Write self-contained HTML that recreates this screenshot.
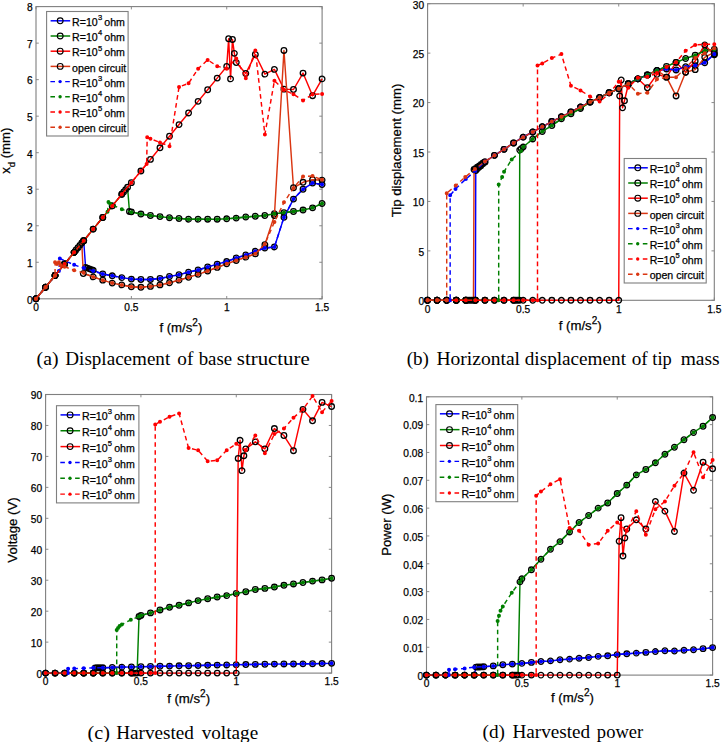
<!DOCTYPE html>
<html><head><meta charset="utf-8"><style>html,body{margin:0;padding:0;background:#fff}svg{display:block}</style></head>
<body><svg width="725" height="742" viewBox="0 0 725 742">
<rect width="725" height="742" fill="#fff"/>
<text x="32.60" y="303.60" text-anchor="end" font-family="&quot;Liberation Sans&quot;, sans-serif" stroke="#000" stroke-width="0.25" font-size="10.2">0</text>
<text x="32.60" y="267.08" text-anchor="end" font-family="&quot;Liberation Sans&quot;, sans-serif" stroke="#000" stroke-width="0.25" font-size="10.2">1</text>
<text x="32.60" y="230.55" text-anchor="end" font-family="&quot;Liberation Sans&quot;, sans-serif" stroke="#000" stroke-width="0.25" font-size="10.2">2</text>
<text x="32.60" y="194.03" text-anchor="end" font-family="&quot;Liberation Sans&quot;, sans-serif" stroke="#000" stroke-width="0.25" font-size="10.2">3</text>
<text x="32.60" y="157.50" text-anchor="end" font-family="&quot;Liberation Sans&quot;, sans-serif" stroke="#000" stroke-width="0.25" font-size="10.2">4</text>
<text x="32.60" y="120.98" text-anchor="end" font-family="&quot;Liberation Sans&quot;, sans-serif" stroke="#000" stroke-width="0.25" font-size="10.2">5</text>
<text x="32.60" y="84.45" text-anchor="end" font-family="&quot;Liberation Sans&quot;, sans-serif" stroke="#000" stroke-width="0.25" font-size="10.2">6</text>
<text x="32.60" y="47.93" text-anchor="end" font-family="&quot;Liberation Sans&quot;, sans-serif" stroke="#000" stroke-width="0.25" font-size="10.2">7</text>
<text x="32.60" y="11.40" text-anchor="end" font-family="&quot;Liberation Sans&quot;, sans-serif" stroke="#000" stroke-width="0.25" font-size="10.2">8</text>
<text x="36.00" y="311.00" text-anchor="middle" font-family="&quot;Liberation Sans&quot;, sans-serif" stroke="#000" stroke-width="0.25" font-size="10.2">0</text>
<text x="131.37" y="311.00" text-anchor="middle" font-family="&quot;Liberation Sans&quot;, sans-serif" stroke="#000" stroke-width="0.25" font-size="10.2">0.5</text>
<text x="226.73" y="311.00" text-anchor="middle" font-family="&quot;Liberation Sans&quot;, sans-serif" stroke="#000" stroke-width="0.25" font-size="10.2">1</text>
<text x="322.10" y="311.00" text-anchor="middle" font-family="&quot;Liberation Sans&quot;, sans-serif" stroke="#000" stroke-width="0.25" font-size="10.2">1.5</text>
<path d="M36.00,298.80h2.8M322.10,298.80h-2.8M36.00,262.28h2.8M322.10,262.28h-2.8M36.00,225.75h2.8M322.10,225.75h-2.8M36.00,189.23h2.8M322.10,189.23h-2.8M36.00,152.70h2.8M322.10,152.70h-2.8M36.00,116.18h2.8M322.10,116.18h-2.8M36.00,79.65h2.8M322.10,79.65h-2.8M36.00,43.13h2.8M322.10,43.13h-2.8M36.00,6.60h2.8M322.10,6.60h-2.8M36.00,298.80v-2.8M36.00,6.60v2.8M131.37,298.80v-2.8M131.37,6.60v2.8M226.73,298.80v-2.8M226.73,6.60v2.8M322.10,298.80v-2.8M322.10,6.60v2.8" stroke="#7f7f7f" stroke-width="0.9" fill="none"/>
<rect x="36.00" y="6.60" width="286.10" height="292.20" fill="none" stroke="#7f7f7f" stroke-width="1.1"/>
<text x="180.85" y="332.00" text-anchor="middle" font-family="&quot;Liberation Sans&quot;, sans-serif" stroke="#000" stroke-width="0.25" font-size="13.2">f (m/s<tspan dy="-6" font-size="10">2</tspan><tspan dy="6">)</tspan></text>
<text transform="translate(10.3,150.70) rotate(-90)" text-anchor="middle" font-family="&quot;Liberation Sans&quot;, sans-serif" stroke="#000" stroke-width="0.25" font-size="13.2">x<tspan dy="4.5" font-size="9.5">d</tspan><tspan dy="-4.5"> (mm)</tspan></text>
<text x="36.62" y="365.40" font-family="&quot;Liberation Serif&quot;, serif" font-size="18.2" textLength="21.89" lengthAdjust="spacingAndGlyphs">(a)</text>
<text x="65.35" y="365.40" font-family="&quot;Liberation Serif&quot;, serif" font-size="18.2" textLength="104.85" lengthAdjust="spacingAndGlyphs">Displacement</text>
<text x="177.34" y="365.40" font-family="&quot;Liberation Serif&quot;, serif" font-size="18.2" textLength="16.02" lengthAdjust="spacingAndGlyphs">of</text>
<text x="198.70" y="365.40" font-family="&quot;Liberation Serif&quot;, serif" font-size="18.2" textLength="33.44" lengthAdjust="spacingAndGlyphs">base</text>
<text x="236.85" y="365.40" font-family="&quot;Liberation Serif&quot;, serif" font-size="18.2" textLength="72.88" lengthAdjust="spacingAndGlyphs">structure</text>
<path d="M36.00,298.80L45.54,287.19L55.07,275.57L64.61,263.96L74.15,252.34L83.68,240.73L85.59,267.39L87.50,268.12L89.41,268.85L91.31,269.58L93.22,270.31L102.76,273.96L112.29,275.79L121.83,277.62L131.37,279.08L140.90,279.44L150.44,279.44L159.98,278.49L169.51,276.52L179.05,274.69L188.59,272.14L198.12,269.95L207.66,267.02L217.20,264.10L226.73,261.54L236.27,257.89L245.81,254.97L255.34,251.32L264.88,248.03L274.42,246.93L283.95,217.35L293.49,199.09L303.03,189.23L312.56,183.02L322.10,184.48" fill="none" stroke="#0000ff" stroke-width="1.45" stroke-linejoin="round"/>
<path d="M33.20,298.80a2.8,2.8 0 1,0 5.6,0a2.8,2.8 0 1,0 -5.6,0M42.74,287.19a2.8,2.8 0 1,0 5.6,0a2.8,2.8 0 1,0 -5.6,0M52.27,275.57a2.8,2.8 0 1,0 5.6,0a2.8,2.8 0 1,0 -5.6,0M61.81,263.96a2.8,2.8 0 1,0 5.6,0a2.8,2.8 0 1,0 -5.6,0M71.35,252.34a2.8,2.8 0 1,0 5.6,0a2.8,2.8 0 1,0 -5.6,0M80.88,240.73a2.8,2.8 0 1,0 5.6,0a2.8,2.8 0 1,0 -5.6,0M82.79,267.39a2.8,2.8 0 1,0 5.6,0a2.8,2.8 0 1,0 -5.6,0M84.70,268.12a2.8,2.8 0 1,0 5.6,0a2.8,2.8 0 1,0 -5.6,0M86.61,268.85a2.8,2.8 0 1,0 5.6,0a2.8,2.8 0 1,0 -5.6,0M88.51,269.58a2.8,2.8 0 1,0 5.6,0a2.8,2.8 0 1,0 -5.6,0M90.42,270.31a2.8,2.8 0 1,0 5.6,0a2.8,2.8 0 1,0 -5.6,0M99.96,273.96a2.8,2.8 0 1,0 5.6,0a2.8,2.8 0 1,0 -5.6,0M109.49,275.79a2.8,2.8 0 1,0 5.6,0a2.8,2.8 0 1,0 -5.6,0M119.03,277.62a2.8,2.8 0 1,0 5.6,0a2.8,2.8 0 1,0 -5.6,0M128.57,279.08a2.8,2.8 0 1,0 5.6,0a2.8,2.8 0 1,0 -5.6,0M138.10,279.44a2.8,2.8 0 1,0 5.6,0a2.8,2.8 0 1,0 -5.6,0M147.64,279.44a2.8,2.8 0 1,0 5.6,0a2.8,2.8 0 1,0 -5.6,0M157.18,278.49a2.8,2.8 0 1,0 5.6,0a2.8,2.8 0 1,0 -5.6,0M166.71,276.52a2.8,2.8 0 1,0 5.6,0a2.8,2.8 0 1,0 -5.6,0M176.25,274.69a2.8,2.8 0 1,0 5.6,0a2.8,2.8 0 1,0 -5.6,0M185.79,272.14a2.8,2.8 0 1,0 5.6,0a2.8,2.8 0 1,0 -5.6,0M195.32,269.95a2.8,2.8 0 1,0 5.6,0a2.8,2.8 0 1,0 -5.6,0M204.86,267.02a2.8,2.8 0 1,0 5.6,0a2.8,2.8 0 1,0 -5.6,0M214.40,264.10a2.8,2.8 0 1,0 5.6,0a2.8,2.8 0 1,0 -5.6,0M223.93,261.54a2.8,2.8 0 1,0 5.6,0a2.8,2.8 0 1,0 -5.6,0M233.47,257.89a2.8,2.8 0 1,0 5.6,0a2.8,2.8 0 1,0 -5.6,0M243.01,254.97a2.8,2.8 0 1,0 5.6,0a2.8,2.8 0 1,0 -5.6,0M252.54,251.32a2.8,2.8 0 1,0 5.6,0a2.8,2.8 0 1,0 -5.6,0M262.08,248.03a2.8,2.8 0 1,0 5.6,0a2.8,2.8 0 1,0 -5.6,0M271.62,246.93a2.8,2.8 0 1,0 5.6,0a2.8,2.8 0 1,0 -5.6,0M281.15,217.35a2.8,2.8 0 1,0 5.6,0a2.8,2.8 0 1,0 -5.6,0M290.69,199.09a2.8,2.8 0 1,0 5.6,0a2.8,2.8 0 1,0 -5.6,0M300.23,189.23a2.8,2.8 0 1,0 5.6,0a2.8,2.8 0 1,0 -5.6,0M309.76,183.02a2.8,2.8 0 1,0 5.6,0a2.8,2.8 0 1,0 -5.6,0M319.30,184.48a2.8,2.8 0 1,0 5.6,0a2.8,2.8 0 1,0 -5.6,0" fill="none" stroke="#000" stroke-width="1.3"/>
<path d="M36.00,298.80L45.54,287.19L55.07,275.57L64.61,263.96L74.15,252.34L83.68,240.73L93.22,229.11L102.76,217.50L112.29,205.88L121.83,194.27L123.74,191.94L125.64,189.62L127.55,187.30L129.46,211.51L131.37,211.87L140.90,214.06L150.44,215.52L159.98,216.62L169.51,217.71L179.05,218.44L188.59,219.18L198.12,219.18L207.66,219.18L217.20,219.18L226.73,218.81L236.27,218.08L245.81,216.98L255.34,216.25L264.88,215.52L274.42,213.70L283.95,212.60L293.49,211.51L303.03,210.04L312.56,207.85L322.10,203.47" fill="none" stroke="#007f00" stroke-width="1.45" stroke-linejoin="round"/>
<path d="M33.20,298.80a2.8,2.8 0 1,0 5.6,0a2.8,2.8 0 1,0 -5.6,0M42.74,287.19a2.8,2.8 0 1,0 5.6,0a2.8,2.8 0 1,0 -5.6,0M52.27,275.57a2.8,2.8 0 1,0 5.6,0a2.8,2.8 0 1,0 -5.6,0M61.81,263.96a2.8,2.8 0 1,0 5.6,0a2.8,2.8 0 1,0 -5.6,0M71.35,252.34a2.8,2.8 0 1,0 5.6,0a2.8,2.8 0 1,0 -5.6,0M80.88,240.73a2.8,2.8 0 1,0 5.6,0a2.8,2.8 0 1,0 -5.6,0M90.42,229.11a2.8,2.8 0 1,0 5.6,0a2.8,2.8 0 1,0 -5.6,0M99.96,217.50a2.8,2.8 0 1,0 5.6,0a2.8,2.8 0 1,0 -5.6,0M109.49,205.88a2.8,2.8 0 1,0 5.6,0a2.8,2.8 0 1,0 -5.6,0M119.03,194.27a2.8,2.8 0 1,0 5.6,0a2.8,2.8 0 1,0 -5.6,0M120.94,191.94a2.8,2.8 0 1,0 5.6,0a2.8,2.8 0 1,0 -5.6,0M122.84,189.62a2.8,2.8 0 1,0 5.6,0a2.8,2.8 0 1,0 -5.6,0M124.75,187.30a2.8,2.8 0 1,0 5.6,0a2.8,2.8 0 1,0 -5.6,0M126.66,211.51a2.8,2.8 0 1,0 5.6,0a2.8,2.8 0 1,0 -5.6,0M128.57,211.87a2.8,2.8 0 1,0 5.6,0a2.8,2.8 0 1,0 -5.6,0M138.10,214.06a2.8,2.8 0 1,0 5.6,0a2.8,2.8 0 1,0 -5.6,0M147.64,215.52a2.8,2.8 0 1,0 5.6,0a2.8,2.8 0 1,0 -5.6,0M157.18,216.62a2.8,2.8 0 1,0 5.6,0a2.8,2.8 0 1,0 -5.6,0M166.71,217.71a2.8,2.8 0 1,0 5.6,0a2.8,2.8 0 1,0 -5.6,0M176.25,218.44a2.8,2.8 0 1,0 5.6,0a2.8,2.8 0 1,0 -5.6,0M185.79,219.18a2.8,2.8 0 1,0 5.6,0a2.8,2.8 0 1,0 -5.6,0M195.32,219.18a2.8,2.8 0 1,0 5.6,0a2.8,2.8 0 1,0 -5.6,0M204.86,219.18a2.8,2.8 0 1,0 5.6,0a2.8,2.8 0 1,0 -5.6,0M214.40,219.18a2.8,2.8 0 1,0 5.6,0a2.8,2.8 0 1,0 -5.6,0M223.93,218.81a2.8,2.8 0 1,0 5.6,0a2.8,2.8 0 1,0 -5.6,0M233.47,218.08a2.8,2.8 0 1,0 5.6,0a2.8,2.8 0 1,0 -5.6,0M243.01,216.98a2.8,2.8 0 1,0 5.6,0a2.8,2.8 0 1,0 -5.6,0M252.54,216.25a2.8,2.8 0 1,0 5.6,0a2.8,2.8 0 1,0 -5.6,0M262.08,215.52a2.8,2.8 0 1,0 5.6,0a2.8,2.8 0 1,0 -5.6,0M271.62,213.70a2.8,2.8 0 1,0 5.6,0a2.8,2.8 0 1,0 -5.6,0M281.15,212.60a2.8,2.8 0 1,0 5.6,0a2.8,2.8 0 1,0 -5.6,0M290.69,211.51a2.8,2.8 0 1,0 5.6,0a2.8,2.8 0 1,0 -5.6,0M300.23,210.04a2.8,2.8 0 1,0 5.6,0a2.8,2.8 0 1,0 -5.6,0M309.76,207.85a2.8,2.8 0 1,0 5.6,0a2.8,2.8 0 1,0 -5.6,0M319.30,203.47a2.8,2.8 0 1,0 5.6,0a2.8,2.8 0 1,0 -5.6,0" fill="none" stroke="#000" stroke-width="1.3"/>
<path d="M36.00,298.80L45.54,287.19L55.07,275.57L64.61,263.96L74.15,252.34L83.68,240.73L93.22,229.11L102.76,217.50L112.29,205.88L121.83,194.27L131.37,182.65L140.90,171.04L150.44,159.42L159.98,147.81L169.51,136.19L179.05,124.58L188.59,112.96L198.12,101.35L207.66,89.73L217.20,78.12L226.73,66.50L228.64,38.74L230.55,78.92L232.46,39.47L234.36,53.35L236.27,62.48L245.81,73.44L255.34,54.45L264.88,74.17L274.42,69.42L283.95,89.15L293.49,89.51L303.03,73.08L312.56,95.72L322.10,78.92" fill="none" stroke="#ff0000" stroke-width="1.45" stroke-linejoin="round"/>
<path d="M33.20,298.80a2.8,2.8 0 1,0 5.6,0a2.8,2.8 0 1,0 -5.6,0M42.74,287.19a2.8,2.8 0 1,0 5.6,0a2.8,2.8 0 1,0 -5.6,0M52.27,275.57a2.8,2.8 0 1,0 5.6,0a2.8,2.8 0 1,0 -5.6,0M61.81,263.96a2.8,2.8 0 1,0 5.6,0a2.8,2.8 0 1,0 -5.6,0M71.35,252.34a2.8,2.8 0 1,0 5.6,0a2.8,2.8 0 1,0 -5.6,0M80.88,240.73a2.8,2.8 0 1,0 5.6,0a2.8,2.8 0 1,0 -5.6,0M90.42,229.11a2.8,2.8 0 1,0 5.6,0a2.8,2.8 0 1,0 -5.6,0M99.96,217.50a2.8,2.8 0 1,0 5.6,0a2.8,2.8 0 1,0 -5.6,0M109.49,205.88a2.8,2.8 0 1,0 5.6,0a2.8,2.8 0 1,0 -5.6,0M119.03,194.27a2.8,2.8 0 1,0 5.6,0a2.8,2.8 0 1,0 -5.6,0M128.57,182.65a2.8,2.8 0 1,0 5.6,0a2.8,2.8 0 1,0 -5.6,0M138.10,171.04a2.8,2.8 0 1,0 5.6,0a2.8,2.8 0 1,0 -5.6,0M147.64,159.42a2.8,2.8 0 1,0 5.6,0a2.8,2.8 0 1,0 -5.6,0M157.18,147.81a2.8,2.8 0 1,0 5.6,0a2.8,2.8 0 1,0 -5.6,0M166.71,136.19a2.8,2.8 0 1,0 5.6,0a2.8,2.8 0 1,0 -5.6,0M176.25,124.58a2.8,2.8 0 1,0 5.6,0a2.8,2.8 0 1,0 -5.6,0M185.79,112.96a2.8,2.8 0 1,0 5.6,0a2.8,2.8 0 1,0 -5.6,0M195.32,101.35a2.8,2.8 0 1,0 5.6,0a2.8,2.8 0 1,0 -5.6,0M204.86,89.73a2.8,2.8 0 1,0 5.6,0a2.8,2.8 0 1,0 -5.6,0M214.40,78.12a2.8,2.8 0 1,0 5.6,0a2.8,2.8 0 1,0 -5.6,0M223.93,66.50a2.8,2.8 0 1,0 5.6,0a2.8,2.8 0 1,0 -5.6,0M225.84,38.74a2.8,2.8 0 1,0 5.6,0a2.8,2.8 0 1,0 -5.6,0M227.75,78.92a2.8,2.8 0 1,0 5.6,0a2.8,2.8 0 1,0 -5.6,0M229.66,39.47a2.8,2.8 0 1,0 5.6,0a2.8,2.8 0 1,0 -5.6,0M231.56,53.35a2.8,2.8 0 1,0 5.6,0a2.8,2.8 0 1,0 -5.6,0M233.47,62.48a2.8,2.8 0 1,0 5.6,0a2.8,2.8 0 1,0 -5.6,0M243.01,73.44a2.8,2.8 0 1,0 5.6,0a2.8,2.8 0 1,0 -5.6,0M252.54,54.45a2.8,2.8 0 1,0 5.6,0a2.8,2.8 0 1,0 -5.6,0M262.08,74.17a2.8,2.8 0 1,0 5.6,0a2.8,2.8 0 1,0 -5.6,0M271.62,69.42a2.8,2.8 0 1,0 5.6,0a2.8,2.8 0 1,0 -5.6,0M281.15,89.15a2.8,2.8 0 1,0 5.6,0a2.8,2.8 0 1,0 -5.6,0M290.69,89.51a2.8,2.8 0 1,0 5.6,0a2.8,2.8 0 1,0 -5.6,0M300.23,73.08a2.8,2.8 0 1,0 5.6,0a2.8,2.8 0 1,0 -5.6,0M309.76,95.72a2.8,2.8 0 1,0 5.6,0a2.8,2.8 0 1,0 -5.6,0M319.30,78.92a2.8,2.8 0 1,0 5.6,0a2.8,2.8 0 1,0 -5.6,0" fill="none" stroke="#000" stroke-width="1.3"/>
<path d="M36.00,298.80L45.54,287.19L55.07,275.57L64.61,263.96L74.15,252.34L76.05,250.02L77.96,247.69L79.87,245.37L81.78,243.05L83.30,273.60L93.22,276.88L102.76,280.17L112.29,283.09L121.83,284.92L131.37,286.75L140.90,287.29L150.44,286.38L159.98,284.92L169.51,282.73L179.05,280.17L188.59,277.25L198.12,274.33L207.66,271.04L217.20,267.39L226.73,263.74L236.27,260.45L245.81,257.16L255.34,253.87L264.88,244.74L274.42,215.52L283.95,50.43L293.49,187.76L303.03,182.29L312.56,179.73L322.10,180.09" fill="none" stroke="#da3612" stroke-width="1.45" stroke-linejoin="round"/>
<path d="M33.20,298.80a2.8,2.8 0 1,0 5.6,0a2.8,2.8 0 1,0 -5.6,0M42.74,287.19a2.8,2.8 0 1,0 5.6,0a2.8,2.8 0 1,0 -5.6,0M52.27,275.57a2.8,2.8 0 1,0 5.6,0a2.8,2.8 0 1,0 -5.6,0M61.81,263.96a2.8,2.8 0 1,0 5.6,0a2.8,2.8 0 1,0 -5.6,0M71.35,252.34a2.8,2.8 0 1,0 5.6,0a2.8,2.8 0 1,0 -5.6,0M73.25,250.02a2.8,2.8 0 1,0 5.6,0a2.8,2.8 0 1,0 -5.6,0M75.16,247.69a2.8,2.8 0 1,0 5.6,0a2.8,2.8 0 1,0 -5.6,0M77.07,245.37a2.8,2.8 0 1,0 5.6,0a2.8,2.8 0 1,0 -5.6,0M78.98,243.05a2.8,2.8 0 1,0 5.6,0a2.8,2.8 0 1,0 -5.6,0M80.50,273.60a2.8,2.8 0 1,0 5.6,0a2.8,2.8 0 1,0 -5.6,0M90.42,276.88a2.8,2.8 0 1,0 5.6,0a2.8,2.8 0 1,0 -5.6,0M99.96,280.17a2.8,2.8 0 1,0 5.6,0a2.8,2.8 0 1,0 -5.6,0M109.49,283.09a2.8,2.8 0 1,0 5.6,0a2.8,2.8 0 1,0 -5.6,0M119.03,284.92a2.8,2.8 0 1,0 5.6,0a2.8,2.8 0 1,0 -5.6,0M128.57,286.75a2.8,2.8 0 1,0 5.6,0a2.8,2.8 0 1,0 -5.6,0M138.10,287.29a2.8,2.8 0 1,0 5.6,0a2.8,2.8 0 1,0 -5.6,0M147.64,286.38a2.8,2.8 0 1,0 5.6,0a2.8,2.8 0 1,0 -5.6,0M157.18,284.92a2.8,2.8 0 1,0 5.6,0a2.8,2.8 0 1,0 -5.6,0M166.71,282.73a2.8,2.8 0 1,0 5.6,0a2.8,2.8 0 1,0 -5.6,0M176.25,280.17a2.8,2.8 0 1,0 5.6,0a2.8,2.8 0 1,0 -5.6,0M185.79,277.25a2.8,2.8 0 1,0 5.6,0a2.8,2.8 0 1,0 -5.6,0M195.32,274.33a2.8,2.8 0 1,0 5.6,0a2.8,2.8 0 1,0 -5.6,0M204.86,271.04a2.8,2.8 0 1,0 5.6,0a2.8,2.8 0 1,0 -5.6,0M214.40,267.39a2.8,2.8 0 1,0 5.6,0a2.8,2.8 0 1,0 -5.6,0M223.93,263.74a2.8,2.8 0 1,0 5.6,0a2.8,2.8 0 1,0 -5.6,0M233.47,260.45a2.8,2.8 0 1,0 5.6,0a2.8,2.8 0 1,0 -5.6,0M243.01,257.16a2.8,2.8 0 1,0 5.6,0a2.8,2.8 0 1,0 -5.6,0M252.54,253.87a2.8,2.8 0 1,0 5.6,0a2.8,2.8 0 1,0 -5.6,0M262.08,244.74a2.8,2.8 0 1,0 5.6,0a2.8,2.8 0 1,0 -5.6,0M271.62,215.52a2.8,2.8 0 1,0 5.6,0a2.8,2.8 0 1,0 -5.6,0M281.15,50.43a2.8,2.8 0 1,0 5.6,0a2.8,2.8 0 1,0 -5.6,0M290.69,187.76a2.8,2.8 0 1,0 5.6,0a2.8,2.8 0 1,0 -5.6,0M300.23,182.29a2.8,2.8 0 1,0 5.6,0a2.8,2.8 0 1,0 -5.6,0M309.76,179.73a2.8,2.8 0 1,0 5.6,0a2.8,2.8 0 1,0 -5.6,0M319.30,180.09a2.8,2.8 0 1,0 5.6,0a2.8,2.8 0 1,0 -5.6,0" fill="none" stroke="#000" stroke-width="1.3"/>
<path d="M36.00,298.80L45.54,287.19L55.07,275.57L58.89,270.92L59.84,258.62L74.15,264.83L83.68,268.12L93.22,271.04L102.76,273.96L112.29,275.79L121.83,277.62L131.37,279.08L140.90,279.44L150.44,279.44L159.98,278.49L169.51,276.52L179.05,274.69L188.59,272.14L198.12,269.95L207.66,267.02L217.20,264.10L226.73,261.54L236.27,257.89L245.81,254.97L255.34,251.32L264.88,248.03L274.42,246.93L283.95,217.35L293.49,199.09L303.03,189.23L312.56,183.02L322.10,184.48" fill="none" stroke="#0000ff" stroke-width="1.45" stroke-dasharray="4.6,3.4"/>
<path d="M34.00,298.80a2.0,2.0 0 1,0 4.0,0a2.0,2.0 0 1,0 -4.0,0M43.54,287.19a2.0,2.0 0 1,0 4.0,0a2.0,2.0 0 1,0 -4.0,0M53.07,275.57a2.0,2.0 0 1,0 4.0,0a2.0,2.0 0 1,0 -4.0,0M56.89,270.92a2.0,2.0 0 1,0 4.0,0a2.0,2.0 0 1,0 -4.0,0M57.84,258.62a2.0,2.0 0 1,0 4.0,0a2.0,2.0 0 1,0 -4.0,0M72.15,264.83a2.0,2.0 0 1,0 4.0,0a2.0,2.0 0 1,0 -4.0,0M81.68,268.12a2.0,2.0 0 1,0 4.0,0a2.0,2.0 0 1,0 -4.0,0M91.22,271.04a2.0,2.0 0 1,0 4.0,0a2.0,2.0 0 1,0 -4.0,0M100.76,273.96a2.0,2.0 0 1,0 4.0,0a2.0,2.0 0 1,0 -4.0,0M110.29,275.79a2.0,2.0 0 1,0 4.0,0a2.0,2.0 0 1,0 -4.0,0M119.83,277.62a2.0,2.0 0 1,0 4.0,0a2.0,2.0 0 1,0 -4.0,0M129.37,279.08a2.0,2.0 0 1,0 4.0,0a2.0,2.0 0 1,0 -4.0,0M138.90,279.44a2.0,2.0 0 1,0 4.0,0a2.0,2.0 0 1,0 -4.0,0M148.44,279.44a2.0,2.0 0 1,0 4.0,0a2.0,2.0 0 1,0 -4.0,0M157.98,278.49a2.0,2.0 0 1,0 4.0,0a2.0,2.0 0 1,0 -4.0,0M167.51,276.52a2.0,2.0 0 1,0 4.0,0a2.0,2.0 0 1,0 -4.0,0M177.05,274.69a2.0,2.0 0 1,0 4.0,0a2.0,2.0 0 1,0 -4.0,0M186.59,272.14a2.0,2.0 0 1,0 4.0,0a2.0,2.0 0 1,0 -4.0,0M196.12,269.95a2.0,2.0 0 1,0 4.0,0a2.0,2.0 0 1,0 -4.0,0M205.66,267.02a2.0,2.0 0 1,0 4.0,0a2.0,2.0 0 1,0 -4.0,0M215.20,264.10a2.0,2.0 0 1,0 4.0,0a2.0,2.0 0 1,0 -4.0,0M224.73,261.54a2.0,2.0 0 1,0 4.0,0a2.0,2.0 0 1,0 -4.0,0M234.27,257.89a2.0,2.0 0 1,0 4.0,0a2.0,2.0 0 1,0 -4.0,0M243.81,254.97a2.0,2.0 0 1,0 4.0,0a2.0,2.0 0 1,0 -4.0,0M253.34,251.32a2.0,2.0 0 1,0 4.0,0a2.0,2.0 0 1,0 -4.0,0M262.88,248.03a2.0,2.0 0 1,0 4.0,0a2.0,2.0 0 1,0 -4.0,0M272.42,246.93a2.0,2.0 0 1,0 4.0,0a2.0,2.0 0 1,0 -4.0,0M281.95,217.35a2.0,2.0 0 1,0 4.0,0a2.0,2.0 0 1,0 -4.0,0M291.49,199.09a2.0,2.0 0 1,0 4.0,0a2.0,2.0 0 1,0 -4.0,0M301.03,189.23a2.0,2.0 0 1,0 4.0,0a2.0,2.0 0 1,0 -4.0,0M310.56,183.02a2.0,2.0 0 1,0 4.0,0a2.0,2.0 0 1,0 -4.0,0M320.10,184.48a2.0,2.0 0 1,0 4.0,0a2.0,2.0 0 1,0 -4.0,0" fill="#0000ff" stroke="none"/>
<path d="M36.00,298.80L45.54,287.19L55.07,275.57L64.61,263.96L74.15,252.34L83.68,240.73L93.22,229.11L102.76,217.50L107.53,211.69L108.48,202.01L110.39,203.84L121.83,209.31L131.37,212.24L140.90,214.06L150.44,215.52L159.98,216.62L169.51,217.71L179.05,218.44L188.59,219.18L198.12,219.18L207.66,219.18L217.20,219.18L226.73,218.81L236.27,218.08L245.81,216.98L255.34,216.25L264.88,215.52L274.42,213.70L283.95,212.60L293.49,211.51L303.03,210.04L312.56,207.85L322.10,203.47" fill="none" stroke="#007f00" stroke-width="1.45" stroke-dasharray="4.6,3.4"/>
<path d="M34.00,298.80a2.0,2.0 0 1,0 4.0,0a2.0,2.0 0 1,0 -4.0,0M43.54,287.19a2.0,2.0 0 1,0 4.0,0a2.0,2.0 0 1,0 -4.0,0M53.07,275.57a2.0,2.0 0 1,0 4.0,0a2.0,2.0 0 1,0 -4.0,0M62.61,263.96a2.0,2.0 0 1,0 4.0,0a2.0,2.0 0 1,0 -4.0,0M72.15,252.34a2.0,2.0 0 1,0 4.0,0a2.0,2.0 0 1,0 -4.0,0M81.68,240.73a2.0,2.0 0 1,0 4.0,0a2.0,2.0 0 1,0 -4.0,0M91.22,229.11a2.0,2.0 0 1,0 4.0,0a2.0,2.0 0 1,0 -4.0,0M100.76,217.50a2.0,2.0 0 1,0 4.0,0a2.0,2.0 0 1,0 -4.0,0M105.53,211.69a2.0,2.0 0 1,0 4.0,0a2.0,2.0 0 1,0 -4.0,0M106.48,202.01a2.0,2.0 0 1,0 4.0,0a2.0,2.0 0 1,0 -4.0,0M108.39,203.84a2.0,2.0 0 1,0 4.0,0a2.0,2.0 0 1,0 -4.0,0M119.83,209.31a2.0,2.0 0 1,0 4.0,0a2.0,2.0 0 1,0 -4.0,0M129.37,212.24a2.0,2.0 0 1,0 4.0,0a2.0,2.0 0 1,0 -4.0,0M138.90,214.06a2.0,2.0 0 1,0 4.0,0a2.0,2.0 0 1,0 -4.0,0M148.44,215.52a2.0,2.0 0 1,0 4.0,0a2.0,2.0 0 1,0 -4.0,0M157.98,216.62a2.0,2.0 0 1,0 4.0,0a2.0,2.0 0 1,0 -4.0,0M167.51,217.71a2.0,2.0 0 1,0 4.0,0a2.0,2.0 0 1,0 -4.0,0M177.05,218.44a2.0,2.0 0 1,0 4.0,0a2.0,2.0 0 1,0 -4.0,0M186.59,219.18a2.0,2.0 0 1,0 4.0,0a2.0,2.0 0 1,0 -4.0,0M196.12,219.18a2.0,2.0 0 1,0 4.0,0a2.0,2.0 0 1,0 -4.0,0M205.66,219.18a2.0,2.0 0 1,0 4.0,0a2.0,2.0 0 1,0 -4.0,0M215.20,219.18a2.0,2.0 0 1,0 4.0,0a2.0,2.0 0 1,0 -4.0,0M224.73,218.81a2.0,2.0 0 1,0 4.0,0a2.0,2.0 0 1,0 -4.0,0M234.27,218.08a2.0,2.0 0 1,0 4.0,0a2.0,2.0 0 1,0 -4.0,0M243.81,216.98a2.0,2.0 0 1,0 4.0,0a2.0,2.0 0 1,0 -4.0,0M253.34,216.25a2.0,2.0 0 1,0 4.0,0a2.0,2.0 0 1,0 -4.0,0M262.88,215.52a2.0,2.0 0 1,0 4.0,0a2.0,2.0 0 1,0 -4.0,0M272.42,213.70a2.0,2.0 0 1,0 4.0,0a2.0,2.0 0 1,0 -4.0,0M281.95,212.60a2.0,2.0 0 1,0 4.0,0a2.0,2.0 0 1,0 -4.0,0M291.49,211.51a2.0,2.0 0 1,0 4.0,0a2.0,2.0 0 1,0 -4.0,0M301.03,210.04a2.0,2.0 0 1,0 4.0,0a2.0,2.0 0 1,0 -4.0,0M310.56,207.85a2.0,2.0 0 1,0 4.0,0a2.0,2.0 0 1,0 -4.0,0M320.10,203.47a2.0,2.0 0 1,0 4.0,0a2.0,2.0 0 1,0 -4.0,0" fill="#007f00" stroke="none"/>
<path d="M36.00,298.80L45.54,287.19L55.07,275.57L64.61,263.96L74.15,252.34L83.68,240.73L93.22,229.11L102.76,217.50L112.29,205.88L121.83,194.27L131.37,182.65L140.90,171.04L146.63,164.07L147.20,137.36L150.44,138.82L159.98,142.47L169.51,146.13L179.05,86.96L188.59,83.30L198.12,68.69L207.66,59.93L217.20,66.14L226.73,68.69L236.27,58.47L245.81,78.19L255.34,50.43L264.88,134.44L274.42,80.75L283.95,89.88L293.49,94.26L303.03,100.47L312.56,94.26L322.10,93.89" fill="none" stroke="#ff0000" stroke-width="1.45" stroke-dasharray="4.6,3.4"/>
<path d="M34.00,298.80a2.0,2.0 0 1,0 4.0,0a2.0,2.0 0 1,0 -4.0,0M43.54,287.19a2.0,2.0 0 1,0 4.0,0a2.0,2.0 0 1,0 -4.0,0M53.07,275.57a2.0,2.0 0 1,0 4.0,0a2.0,2.0 0 1,0 -4.0,0M62.61,263.96a2.0,2.0 0 1,0 4.0,0a2.0,2.0 0 1,0 -4.0,0M72.15,252.34a2.0,2.0 0 1,0 4.0,0a2.0,2.0 0 1,0 -4.0,0M81.68,240.73a2.0,2.0 0 1,0 4.0,0a2.0,2.0 0 1,0 -4.0,0M91.22,229.11a2.0,2.0 0 1,0 4.0,0a2.0,2.0 0 1,0 -4.0,0M100.76,217.50a2.0,2.0 0 1,0 4.0,0a2.0,2.0 0 1,0 -4.0,0M110.29,205.88a2.0,2.0 0 1,0 4.0,0a2.0,2.0 0 1,0 -4.0,0M119.83,194.27a2.0,2.0 0 1,0 4.0,0a2.0,2.0 0 1,0 -4.0,0M129.37,182.65a2.0,2.0 0 1,0 4.0,0a2.0,2.0 0 1,0 -4.0,0M138.90,171.04a2.0,2.0 0 1,0 4.0,0a2.0,2.0 0 1,0 -4.0,0M144.63,164.07a2.0,2.0 0 1,0 4.0,0a2.0,2.0 0 1,0 -4.0,0M145.20,137.36a2.0,2.0 0 1,0 4.0,0a2.0,2.0 0 1,0 -4.0,0M148.44,138.82a2.0,2.0 0 1,0 4.0,0a2.0,2.0 0 1,0 -4.0,0M157.98,142.47a2.0,2.0 0 1,0 4.0,0a2.0,2.0 0 1,0 -4.0,0M167.51,146.13a2.0,2.0 0 1,0 4.0,0a2.0,2.0 0 1,0 -4.0,0M177.05,86.96a2.0,2.0 0 1,0 4.0,0a2.0,2.0 0 1,0 -4.0,0M186.59,83.30a2.0,2.0 0 1,0 4.0,0a2.0,2.0 0 1,0 -4.0,0M196.12,68.69a2.0,2.0 0 1,0 4.0,0a2.0,2.0 0 1,0 -4.0,0M205.66,59.93a2.0,2.0 0 1,0 4.0,0a2.0,2.0 0 1,0 -4.0,0M215.20,66.14a2.0,2.0 0 1,0 4.0,0a2.0,2.0 0 1,0 -4.0,0M224.73,68.69a2.0,2.0 0 1,0 4.0,0a2.0,2.0 0 1,0 -4.0,0M234.27,58.47a2.0,2.0 0 1,0 4.0,0a2.0,2.0 0 1,0 -4.0,0M243.81,78.19a2.0,2.0 0 1,0 4.0,0a2.0,2.0 0 1,0 -4.0,0M253.34,50.43a2.0,2.0 0 1,0 4.0,0a2.0,2.0 0 1,0 -4.0,0M262.88,134.44a2.0,2.0 0 1,0 4.0,0a2.0,2.0 0 1,0 -4.0,0M272.42,80.75a2.0,2.0 0 1,0 4.0,0a2.0,2.0 0 1,0 -4.0,0M281.95,89.88a2.0,2.0 0 1,0 4.0,0a2.0,2.0 0 1,0 -4.0,0M291.49,94.26a2.0,2.0 0 1,0 4.0,0a2.0,2.0 0 1,0 -4.0,0M301.03,100.47a2.0,2.0 0 1,0 4.0,0a2.0,2.0 0 1,0 -4.0,0M310.56,94.26a2.0,2.0 0 1,0 4.0,0a2.0,2.0 0 1,0 -4.0,0M320.10,93.89a2.0,2.0 0 1,0 4.0,0a2.0,2.0 0 1,0 -4.0,0" fill="#ff0000" stroke="none"/>
<path d="M36.00,298.80L45.54,287.19L55.07,275.57L55.07,262.28L56.98,264.10L58.89,262.28L60.80,265.20L64.61,266.66L74.15,270.31L83.68,272.87L93.22,276.88L102.76,280.17L112.29,283.09L121.83,284.92L131.37,286.75L140.90,287.29L150.44,286.38L159.98,284.92L169.51,282.73L179.05,280.17L188.59,277.25L198.12,274.33L207.66,271.04L217.20,267.39L226.73,263.74L236.27,260.45L245.81,257.16L255.34,253.87L264.88,244.01L274.42,222.10L283.95,202.37L293.49,188.13L303.03,176.44L312.56,176.08L322.10,179.73" fill="none" stroke="#da3612" stroke-width="1.45" stroke-dasharray="4.6,3.4"/>
<path d="M34.00,298.80a2.0,2.0 0 1,0 4.0,0a2.0,2.0 0 1,0 -4.0,0M43.54,287.19a2.0,2.0 0 1,0 4.0,0a2.0,2.0 0 1,0 -4.0,0M53.07,275.57a2.0,2.0 0 1,0 4.0,0a2.0,2.0 0 1,0 -4.0,0M53.07,262.28a2.0,2.0 0 1,0 4.0,0a2.0,2.0 0 1,0 -4.0,0M54.98,264.10a2.0,2.0 0 1,0 4.0,0a2.0,2.0 0 1,0 -4.0,0M56.89,262.28a2.0,2.0 0 1,0 4.0,0a2.0,2.0 0 1,0 -4.0,0M58.80,265.20a2.0,2.0 0 1,0 4.0,0a2.0,2.0 0 1,0 -4.0,0M62.61,266.66a2.0,2.0 0 1,0 4.0,0a2.0,2.0 0 1,0 -4.0,0M72.15,270.31a2.0,2.0 0 1,0 4.0,0a2.0,2.0 0 1,0 -4.0,0M81.68,272.87a2.0,2.0 0 1,0 4.0,0a2.0,2.0 0 1,0 -4.0,0M91.22,276.88a2.0,2.0 0 1,0 4.0,0a2.0,2.0 0 1,0 -4.0,0M100.76,280.17a2.0,2.0 0 1,0 4.0,0a2.0,2.0 0 1,0 -4.0,0M110.29,283.09a2.0,2.0 0 1,0 4.0,0a2.0,2.0 0 1,0 -4.0,0M119.83,284.92a2.0,2.0 0 1,0 4.0,0a2.0,2.0 0 1,0 -4.0,0M129.37,286.75a2.0,2.0 0 1,0 4.0,0a2.0,2.0 0 1,0 -4.0,0M138.90,287.29a2.0,2.0 0 1,0 4.0,0a2.0,2.0 0 1,0 -4.0,0M148.44,286.38a2.0,2.0 0 1,0 4.0,0a2.0,2.0 0 1,0 -4.0,0M157.98,284.92a2.0,2.0 0 1,0 4.0,0a2.0,2.0 0 1,0 -4.0,0M167.51,282.73a2.0,2.0 0 1,0 4.0,0a2.0,2.0 0 1,0 -4.0,0M177.05,280.17a2.0,2.0 0 1,0 4.0,0a2.0,2.0 0 1,0 -4.0,0M186.59,277.25a2.0,2.0 0 1,0 4.0,0a2.0,2.0 0 1,0 -4.0,0M196.12,274.33a2.0,2.0 0 1,0 4.0,0a2.0,2.0 0 1,0 -4.0,0M205.66,271.04a2.0,2.0 0 1,0 4.0,0a2.0,2.0 0 1,0 -4.0,0M215.20,267.39a2.0,2.0 0 1,0 4.0,0a2.0,2.0 0 1,0 -4.0,0M224.73,263.74a2.0,2.0 0 1,0 4.0,0a2.0,2.0 0 1,0 -4.0,0M234.27,260.45a2.0,2.0 0 1,0 4.0,0a2.0,2.0 0 1,0 -4.0,0M243.81,257.16a2.0,2.0 0 1,0 4.0,0a2.0,2.0 0 1,0 -4.0,0M253.34,253.87a2.0,2.0 0 1,0 4.0,0a2.0,2.0 0 1,0 -4.0,0M262.88,244.01a2.0,2.0 0 1,0 4.0,0a2.0,2.0 0 1,0 -4.0,0M272.42,222.10a2.0,2.0 0 1,0 4.0,0a2.0,2.0 0 1,0 -4.0,0M281.95,202.37a2.0,2.0 0 1,0 4.0,0a2.0,2.0 0 1,0 -4.0,0M291.49,188.13a2.0,2.0 0 1,0 4.0,0a2.0,2.0 0 1,0 -4.0,0M301.03,176.44a2.0,2.0 0 1,0 4.0,0a2.0,2.0 0 1,0 -4.0,0M310.56,176.08a2.0,2.0 0 1,0 4.0,0a2.0,2.0 0 1,0 -4.0,0M320.10,179.73a2.0,2.0 0 1,0 4.0,0a2.0,2.0 0 1,0 -4.0,0" fill="#da3612" stroke="none"/>
<rect x="46.6" y="11.5" width="81.5" height="124.5" fill="#fff" stroke="#7f7f7f" stroke-width="1.1"/>
<path d="M50.60,20.80h19.6" stroke="#0000ff" stroke-width="1.5"/>
<circle cx="60.20" cy="20.80" r="2.9" fill="none" stroke="#000" stroke-width="1.1"/>
<text x="72.10" y="26.00" font-family="&quot;Liberation Sans&quot;, sans-serif" stroke="#000" stroke-width="0.25" font-size="10.6">R=10<tspan dy="-5.8" dx="0.2" font-size="7.6">3</tspan><tspan dy="5.8" dx="-0.8"> ohm</tspan></text>
<path d="M50.60,36.00h19.6" stroke="#007f00" stroke-width="1.5"/>
<circle cx="60.20" cy="36.00" r="2.9" fill="none" stroke="#000" stroke-width="1.1"/>
<text x="72.10" y="41.20" font-family="&quot;Liberation Sans&quot;, sans-serif" stroke="#000" stroke-width="0.25" font-size="10.6">R=10<tspan dy="-5.8" dx="0.2" font-size="7.6">4</tspan><tspan dy="5.8" dx="-0.8"> ohm</tspan></text>
<path d="M50.60,51.20h19.6" stroke="#ff0000" stroke-width="1.5"/>
<circle cx="60.20" cy="51.20" r="2.9" fill="none" stroke="#000" stroke-width="1.1"/>
<text x="72.10" y="56.40" font-family="&quot;Liberation Sans&quot;, sans-serif" stroke="#000" stroke-width="0.25" font-size="10.6">R=10<tspan dy="-5.8" dx="0.2" font-size="7.6">5</tspan><tspan dy="5.8" dx="-0.8"> ohm</tspan></text>
<path d="M50.60,66.40h19.6" stroke="#da3612" stroke-width="1.5"/>
<circle cx="60.20" cy="66.40" r="2.9" fill="none" stroke="#000" stroke-width="1.1"/>
<text x="72.10" y="71.60" font-family="&quot;Liberation Sans&quot;, sans-serif" stroke="#000" stroke-width="0.25" font-size="10.6">open circuit</text>
<path d="M50.40,81.60h4.6M65.20,81.60h4.6" stroke="#0000ff" stroke-width="1.4"/>
<circle cx="60.10" cy="81.60" r="1.7" fill="#0000ff"/>
<text x="72.10" y="86.80" font-family="&quot;Liberation Sans&quot;, sans-serif" stroke="#000" stroke-width="0.25" font-size="10.6">R=10<tspan dy="-5.8" dx="0.2" font-size="7.6">3</tspan><tspan dy="5.8" dx="-0.8"> ohm</tspan></text>
<path d="M50.40,96.80h4.6M65.20,96.80h4.6" stroke="#007f00" stroke-width="1.4"/>
<circle cx="60.10" cy="96.80" r="1.7" fill="#007f00"/>
<text x="72.10" y="102.00" font-family="&quot;Liberation Sans&quot;, sans-serif" stroke="#000" stroke-width="0.25" font-size="10.6">R=10<tspan dy="-5.8" dx="0.2" font-size="7.6">4</tspan><tspan dy="5.8" dx="-0.8"> ohm</tspan></text>
<path d="M50.40,112.00h4.6M65.20,112.00h4.6" stroke="#ff0000" stroke-width="1.4"/>
<circle cx="60.10" cy="112.00" r="1.7" fill="#ff0000"/>
<text x="72.10" y="117.20" font-family="&quot;Liberation Sans&quot;, sans-serif" stroke="#000" stroke-width="0.25" font-size="10.6">R=10<tspan dy="-5.8" dx="0.2" font-size="7.6">5</tspan><tspan dy="5.8" dx="-0.8"> ohm</tspan></text>
<path d="M50.40,127.20h4.6M65.20,127.20h4.6" stroke="#da3612" stroke-width="1.4"/>
<circle cx="60.10" cy="127.20" r="1.7" fill="#da3612"/>
<text x="72.10" y="132.40" font-family="&quot;Liberation Sans&quot;, sans-serif" stroke="#000" stroke-width="0.25" font-size="10.6">open circuit</text>
<text x="424.20" y="305.10" text-anchor="end" font-family="&quot;Liberation Sans&quot;, sans-serif" stroke="#000" stroke-width="0.25" font-size="10.2">0</text>
<text x="424.20" y="255.67" text-anchor="end" font-family="&quot;Liberation Sans&quot;, sans-serif" stroke="#000" stroke-width="0.25" font-size="10.2">5</text>
<text x="424.20" y="206.23" text-anchor="end" font-family="&quot;Liberation Sans&quot;, sans-serif" stroke="#000" stroke-width="0.25" font-size="10.2">10</text>
<text x="424.20" y="156.80" text-anchor="end" font-family="&quot;Liberation Sans&quot;, sans-serif" stroke="#000" stroke-width="0.25" font-size="10.2">15</text>
<text x="424.20" y="107.37" text-anchor="end" font-family="&quot;Liberation Sans&quot;, sans-serif" stroke="#000" stroke-width="0.25" font-size="10.2">20</text>
<text x="424.20" y="57.93" text-anchor="end" font-family="&quot;Liberation Sans&quot;, sans-serif" stroke="#000" stroke-width="0.25" font-size="10.2">25</text>
<text x="424.20" y="8.50" text-anchor="end" font-family="&quot;Liberation Sans&quot;, sans-serif" stroke="#000" stroke-width="0.25" font-size="10.2">30</text>
<text x="427.60" y="312.50" text-anchor="middle" font-family="&quot;Liberation Sans&quot;, sans-serif" stroke="#000" stroke-width="0.25" font-size="10.2">0</text>
<text x="523.17" y="312.50" text-anchor="middle" font-family="&quot;Liberation Sans&quot;, sans-serif" stroke="#000" stroke-width="0.25" font-size="10.2">0.5</text>
<text x="618.73" y="312.50" text-anchor="middle" font-family="&quot;Liberation Sans&quot;, sans-serif" stroke="#000" stroke-width="0.25" font-size="10.2">1</text>
<text x="714.30" y="312.50" text-anchor="middle" font-family="&quot;Liberation Sans&quot;, sans-serif" stroke="#000" stroke-width="0.25" font-size="10.2">1.5</text>
<path d="M427.60,300.30h2.8M714.30,300.30h-2.8M427.60,250.87h2.8M714.30,250.87h-2.8M427.60,201.43h2.8M714.30,201.43h-2.8M427.60,152.00h2.8M714.30,152.00h-2.8M427.60,102.57h2.8M714.30,102.57h-2.8M427.60,53.13h2.8M714.30,53.13h-2.8M427.60,3.70h2.8M714.30,3.70h-2.8M427.60,300.30v-2.8M427.60,3.70v2.8M523.17,300.30v-2.8M523.17,3.70v2.8M618.73,300.30v-2.8M618.73,3.70v2.8M714.30,300.30v-2.8M714.30,3.70v2.8" stroke="#7f7f7f" stroke-width="0.9" fill="none"/>
<rect x="427.60" y="3.70" width="286.70" height="296.60" fill="none" stroke="#7f7f7f" stroke-width="1.1"/>
<text x="580.15" y="330.30" text-anchor="middle" font-family="&quot;Liberation Sans&quot;, sans-serif" stroke="#000" stroke-width="0.25" font-size="13.2">f (m/s<tspan dy="-6" font-size="10">2</tspan><tspan dy="6">)</tspan></text>
<text transform="translate(401.3,150.50) rotate(-90)" text-anchor="middle" font-family="&quot;Liberation Sans&quot;, sans-serif" stroke="#000" stroke-width="0.25" font-size="13.2">Tip displacement (mm)</text>
<text x="406.65" y="365.40" font-family="&quot;Liberation Serif&quot;, serif" font-size="18.2" textLength="22.28" lengthAdjust="spacingAndGlyphs">(b)</text>
<text x="436.43" y="365.40" font-family="&quot;Liberation Serif&quot;, serif" font-size="18.2" textLength="83.61" lengthAdjust="spacingAndGlyphs">Horizontal</text>
<text x="524.75" y="365.40" font-family="&quot;Liberation Serif&quot;, serif" font-size="18.2" textLength="101.22" lengthAdjust="spacingAndGlyphs">displacement</text>
<text x="631.74" y="365.40" font-family="&quot;Liberation Serif&quot;, serif" font-size="18.2" textLength="16.02" lengthAdjust="spacingAndGlyphs">of</text>
<text x="652.29" y="365.40" font-family="&quot;Liberation Serif&quot;, serif" font-size="18.2" textLength="19.42" lengthAdjust="spacingAndGlyphs">tip</text>
<text x="680.73" y="365.40" font-family="&quot;Liberation Serif&quot;, serif" font-size="18.2" textLength="38.97" lengthAdjust="spacingAndGlyphs">mass</text>
<path d="M427.60,300.30L437.16,300.30L446.71,300.30L456.27,300.30L465.83,300.30L475.38,300.30L475.77,170.49L477.29,168.81L479.21,167.32L481.12,165.84L483.03,163.86L484.94,161.89L494.50,155.34L504.05,149.34L513.61,142.97L523.17,137.16L532.72,131.93L542.28,126.77L551.84,121.56L561.39,116.80L570.95,111.86L580.51,107.02L590.06,102.09L599.62,97.53L609.18,92.74L618.73,88.73L628.29,83.78L637.85,78.84L647.40,74.88L656.96,70.43L666.52,68.95L676.07,69.94L685.63,66.68L695.19,65.59L704.74,62.82L714.30,54.12" fill="none" stroke="#0000ff" stroke-width="1.45" stroke-linejoin="round"/>
<path d="M424.80,300.30a2.8,2.8 0 1,0 5.6,0a2.8,2.8 0 1,0 -5.6,0M434.36,300.30a2.8,2.8 0 1,0 5.6,0a2.8,2.8 0 1,0 -5.6,0M443.91,300.30a2.8,2.8 0 1,0 5.6,0a2.8,2.8 0 1,0 -5.6,0M453.47,300.30a2.8,2.8 0 1,0 5.6,0a2.8,2.8 0 1,0 -5.6,0M463.03,300.30a2.8,2.8 0 1,0 5.6,0a2.8,2.8 0 1,0 -5.6,0M472.58,300.30a2.8,2.8 0 1,0 5.6,0a2.8,2.8 0 1,0 -5.6,0M472.97,170.49a2.8,2.8 0 1,0 5.6,0a2.8,2.8 0 1,0 -5.6,0M474.49,168.81a2.8,2.8 0 1,0 5.6,0a2.8,2.8 0 1,0 -5.6,0M476.41,167.32a2.8,2.8 0 1,0 5.6,0a2.8,2.8 0 1,0 -5.6,0M478.32,165.84a2.8,2.8 0 1,0 5.6,0a2.8,2.8 0 1,0 -5.6,0M480.23,163.86a2.8,2.8 0 1,0 5.6,0a2.8,2.8 0 1,0 -5.6,0M482.14,161.89a2.8,2.8 0 1,0 5.6,0a2.8,2.8 0 1,0 -5.6,0M491.70,155.34a2.8,2.8 0 1,0 5.6,0a2.8,2.8 0 1,0 -5.6,0M501.25,149.34a2.8,2.8 0 1,0 5.6,0a2.8,2.8 0 1,0 -5.6,0M510.81,142.97a2.8,2.8 0 1,0 5.6,0a2.8,2.8 0 1,0 -5.6,0M520.37,137.16a2.8,2.8 0 1,0 5.6,0a2.8,2.8 0 1,0 -5.6,0M529.92,131.93a2.8,2.8 0 1,0 5.6,0a2.8,2.8 0 1,0 -5.6,0M539.48,126.77a2.8,2.8 0 1,0 5.6,0a2.8,2.8 0 1,0 -5.6,0M549.04,121.56a2.8,2.8 0 1,0 5.6,0a2.8,2.8 0 1,0 -5.6,0M558.59,116.80a2.8,2.8 0 1,0 5.6,0a2.8,2.8 0 1,0 -5.6,0M568.15,111.86a2.8,2.8 0 1,0 5.6,0a2.8,2.8 0 1,0 -5.6,0M577.71,107.02a2.8,2.8 0 1,0 5.6,0a2.8,2.8 0 1,0 -5.6,0M587.26,102.09a2.8,2.8 0 1,0 5.6,0a2.8,2.8 0 1,0 -5.6,0M596.82,97.53a2.8,2.8 0 1,0 5.6,0a2.8,2.8 0 1,0 -5.6,0M606.38,92.74a2.8,2.8 0 1,0 5.6,0a2.8,2.8 0 1,0 -5.6,0M615.93,88.73a2.8,2.8 0 1,0 5.6,0a2.8,2.8 0 1,0 -5.6,0M625.49,83.78a2.8,2.8 0 1,0 5.6,0a2.8,2.8 0 1,0 -5.6,0M635.05,78.84a2.8,2.8 0 1,0 5.6,0a2.8,2.8 0 1,0 -5.6,0M644.60,74.88a2.8,2.8 0 1,0 5.6,0a2.8,2.8 0 1,0 -5.6,0M654.16,70.43a2.8,2.8 0 1,0 5.6,0a2.8,2.8 0 1,0 -5.6,0M663.72,68.95a2.8,2.8 0 1,0 5.6,0a2.8,2.8 0 1,0 -5.6,0M673.27,69.94a2.8,2.8 0 1,0 5.6,0a2.8,2.8 0 1,0 -5.6,0M682.83,66.68a2.8,2.8 0 1,0 5.6,0a2.8,2.8 0 1,0 -5.6,0M692.39,65.59a2.8,2.8 0 1,0 5.6,0a2.8,2.8 0 1,0 -5.6,0M701.94,62.82a2.8,2.8 0 1,0 5.6,0a2.8,2.8 0 1,0 -5.6,0M711.50,54.12a2.8,2.8 0 1,0 5.6,0a2.8,2.8 0 1,0 -5.6,0" fill="none" stroke="#000" stroke-width="1.3"/>
<path d="M427.60,300.30L437.16,300.30L446.71,300.30L456.27,300.30L465.83,300.30L475.38,300.30L484.94,300.30L494.50,300.30L504.05,300.30L513.61,300.30L515.52,300.30L517.43,300.30L519.34,300.30L519.73,150.02L521.26,148.64L523.17,147.06L532.72,138.95L542.28,131.44L551.84,125.60L561.39,118.88L570.95,113.74L580.51,108.50L590.06,102.09L599.62,97.53L609.18,92.74L618.73,88.73L628.29,83.78L637.85,78.84L647.40,74.88L656.96,70.43L666.52,66.38L676.07,62.33L685.63,58.47L695.19,55.21L704.74,50.76L714.30,49.48" fill="none" stroke="#007f00" stroke-width="1.45" stroke-linejoin="round"/>
<path d="M424.80,300.30a2.8,2.8 0 1,0 5.6,0a2.8,2.8 0 1,0 -5.6,0M434.36,300.30a2.8,2.8 0 1,0 5.6,0a2.8,2.8 0 1,0 -5.6,0M443.91,300.30a2.8,2.8 0 1,0 5.6,0a2.8,2.8 0 1,0 -5.6,0M453.47,300.30a2.8,2.8 0 1,0 5.6,0a2.8,2.8 0 1,0 -5.6,0M463.03,300.30a2.8,2.8 0 1,0 5.6,0a2.8,2.8 0 1,0 -5.6,0M472.58,300.30a2.8,2.8 0 1,0 5.6,0a2.8,2.8 0 1,0 -5.6,0M482.14,300.30a2.8,2.8 0 1,0 5.6,0a2.8,2.8 0 1,0 -5.6,0M491.70,300.30a2.8,2.8 0 1,0 5.6,0a2.8,2.8 0 1,0 -5.6,0M501.25,300.30a2.8,2.8 0 1,0 5.6,0a2.8,2.8 0 1,0 -5.6,0M510.81,300.30a2.8,2.8 0 1,0 5.6,0a2.8,2.8 0 1,0 -5.6,0M512.72,300.30a2.8,2.8 0 1,0 5.6,0a2.8,2.8 0 1,0 -5.6,0M514.63,300.30a2.8,2.8 0 1,0 5.6,0a2.8,2.8 0 1,0 -5.6,0M516.54,300.30a2.8,2.8 0 1,0 5.6,0a2.8,2.8 0 1,0 -5.6,0M516.93,150.02a2.8,2.8 0 1,0 5.6,0a2.8,2.8 0 1,0 -5.6,0M518.46,148.64a2.8,2.8 0 1,0 5.6,0a2.8,2.8 0 1,0 -5.6,0M520.37,147.06a2.8,2.8 0 1,0 5.6,0a2.8,2.8 0 1,0 -5.6,0M529.92,138.95a2.8,2.8 0 1,0 5.6,0a2.8,2.8 0 1,0 -5.6,0M539.48,131.44a2.8,2.8 0 1,0 5.6,0a2.8,2.8 0 1,0 -5.6,0M549.04,125.60a2.8,2.8 0 1,0 5.6,0a2.8,2.8 0 1,0 -5.6,0M558.59,118.88a2.8,2.8 0 1,0 5.6,0a2.8,2.8 0 1,0 -5.6,0M568.15,113.74a2.8,2.8 0 1,0 5.6,0a2.8,2.8 0 1,0 -5.6,0M577.71,108.50a2.8,2.8 0 1,0 5.6,0a2.8,2.8 0 1,0 -5.6,0M587.26,102.09a2.8,2.8 0 1,0 5.6,0a2.8,2.8 0 1,0 -5.6,0M596.82,97.53a2.8,2.8 0 1,0 5.6,0a2.8,2.8 0 1,0 -5.6,0M606.38,92.74a2.8,2.8 0 1,0 5.6,0a2.8,2.8 0 1,0 -5.6,0M615.93,88.73a2.8,2.8 0 1,0 5.6,0a2.8,2.8 0 1,0 -5.6,0M625.49,83.78a2.8,2.8 0 1,0 5.6,0a2.8,2.8 0 1,0 -5.6,0M635.05,78.84a2.8,2.8 0 1,0 5.6,0a2.8,2.8 0 1,0 -5.6,0M644.60,74.88a2.8,2.8 0 1,0 5.6,0a2.8,2.8 0 1,0 -5.6,0M654.16,70.43a2.8,2.8 0 1,0 5.6,0a2.8,2.8 0 1,0 -5.6,0M663.72,66.38a2.8,2.8 0 1,0 5.6,0a2.8,2.8 0 1,0 -5.6,0M673.27,62.33a2.8,2.8 0 1,0 5.6,0a2.8,2.8 0 1,0 -5.6,0M682.83,58.47a2.8,2.8 0 1,0 5.6,0a2.8,2.8 0 1,0 -5.6,0M692.39,55.21a2.8,2.8 0 1,0 5.6,0a2.8,2.8 0 1,0 -5.6,0M701.94,50.76a2.8,2.8 0 1,0 5.6,0a2.8,2.8 0 1,0 -5.6,0M711.50,49.48a2.8,2.8 0 1,0 5.6,0a2.8,2.8 0 1,0 -5.6,0" fill="none" stroke="#000" stroke-width="1.3"/>
<path d="M427.60,300.30L437.16,300.30L446.71,300.30L456.27,300.30L465.83,300.30L475.38,300.30L484.94,300.30L494.50,300.30L504.05,300.30L513.61,300.30L523.17,300.30L532.72,300.30L542.28,300.30L551.84,300.30L561.39,300.30L570.95,300.30L580.51,300.30L590.06,300.30L599.62,300.30L609.18,300.30L618.73,300.30L619.69,95.94L621.22,80.03L622.56,107.81L624.47,100.79L628.29,84.77L637.85,78.84L647.40,87.74L656.96,74.39L666.52,77.16L676.07,62.33L685.63,72.21L695.19,61.04L704.74,44.93L714.30,54.81" fill="none" stroke="#ff0000" stroke-width="1.45" stroke-linejoin="round"/>
<path d="M424.80,300.30a2.8,2.8 0 1,0 5.6,0a2.8,2.8 0 1,0 -5.6,0M434.36,300.30a2.8,2.8 0 1,0 5.6,0a2.8,2.8 0 1,0 -5.6,0M443.91,300.30a2.8,2.8 0 1,0 5.6,0a2.8,2.8 0 1,0 -5.6,0M453.47,300.30a2.8,2.8 0 1,0 5.6,0a2.8,2.8 0 1,0 -5.6,0M463.03,300.30a2.8,2.8 0 1,0 5.6,0a2.8,2.8 0 1,0 -5.6,0M472.58,300.30a2.8,2.8 0 1,0 5.6,0a2.8,2.8 0 1,0 -5.6,0M482.14,300.30a2.8,2.8 0 1,0 5.6,0a2.8,2.8 0 1,0 -5.6,0M491.70,300.30a2.8,2.8 0 1,0 5.6,0a2.8,2.8 0 1,0 -5.6,0M501.25,300.30a2.8,2.8 0 1,0 5.6,0a2.8,2.8 0 1,0 -5.6,0M510.81,300.30a2.8,2.8 0 1,0 5.6,0a2.8,2.8 0 1,0 -5.6,0M520.37,300.30a2.8,2.8 0 1,0 5.6,0a2.8,2.8 0 1,0 -5.6,0M529.92,300.30a2.8,2.8 0 1,0 5.6,0a2.8,2.8 0 1,0 -5.6,0M539.48,300.30a2.8,2.8 0 1,0 5.6,0a2.8,2.8 0 1,0 -5.6,0M549.04,300.30a2.8,2.8 0 1,0 5.6,0a2.8,2.8 0 1,0 -5.6,0M558.59,300.30a2.8,2.8 0 1,0 5.6,0a2.8,2.8 0 1,0 -5.6,0M568.15,300.30a2.8,2.8 0 1,0 5.6,0a2.8,2.8 0 1,0 -5.6,0M577.71,300.30a2.8,2.8 0 1,0 5.6,0a2.8,2.8 0 1,0 -5.6,0M587.26,300.30a2.8,2.8 0 1,0 5.6,0a2.8,2.8 0 1,0 -5.6,0M596.82,300.30a2.8,2.8 0 1,0 5.6,0a2.8,2.8 0 1,0 -5.6,0M606.38,300.30a2.8,2.8 0 1,0 5.6,0a2.8,2.8 0 1,0 -5.6,0M615.93,300.30a2.8,2.8 0 1,0 5.6,0a2.8,2.8 0 1,0 -5.6,0M616.89,95.94a2.8,2.8 0 1,0 5.6,0a2.8,2.8 0 1,0 -5.6,0M618.42,80.03a2.8,2.8 0 1,0 5.6,0a2.8,2.8 0 1,0 -5.6,0M619.76,107.81a2.8,2.8 0 1,0 5.6,0a2.8,2.8 0 1,0 -5.6,0M621.67,100.79a2.8,2.8 0 1,0 5.6,0a2.8,2.8 0 1,0 -5.6,0M625.49,84.77a2.8,2.8 0 1,0 5.6,0a2.8,2.8 0 1,0 -5.6,0M635.05,78.84a2.8,2.8 0 1,0 5.6,0a2.8,2.8 0 1,0 -5.6,0M644.60,87.74a2.8,2.8 0 1,0 5.6,0a2.8,2.8 0 1,0 -5.6,0M654.16,74.39a2.8,2.8 0 1,0 5.6,0a2.8,2.8 0 1,0 -5.6,0M663.72,77.16a2.8,2.8 0 1,0 5.6,0a2.8,2.8 0 1,0 -5.6,0M673.27,62.33a2.8,2.8 0 1,0 5.6,0a2.8,2.8 0 1,0 -5.6,0M682.83,72.21a2.8,2.8 0 1,0 5.6,0a2.8,2.8 0 1,0 -5.6,0M692.39,61.04a2.8,2.8 0 1,0 5.6,0a2.8,2.8 0 1,0 -5.6,0M701.94,44.93a2.8,2.8 0 1,0 5.6,0a2.8,2.8 0 1,0 -5.6,0M711.50,54.81a2.8,2.8 0 1,0 5.6,0a2.8,2.8 0 1,0 -5.6,0" fill="none" stroke="#000" stroke-width="1.3"/>
<path d="M427.60,300.30L437.16,300.30L446.71,300.30L456.27,300.30L465.83,300.30L467.74,300.30L469.65,300.30L471.56,300.30L473.47,300.30L474.05,169.40L475.38,168.81L477.29,167.32L479.21,165.84L481.12,164.36L483.03,162.88L484.94,161.89L494.50,155.34L504.05,149.34L513.61,142.97L523.17,137.16L532.72,131.93L542.28,126.77L551.84,121.56L561.39,116.80L570.95,111.86L580.51,107.02L590.06,102.09L599.62,97.53L609.18,92.74L618.73,88.73L628.29,83.78L637.85,78.84L647.40,74.88L656.96,70.43L666.52,77.16L676.07,95.94L685.63,72.21L695.19,69.64L704.74,57.29L714.30,52.14" fill="none" stroke="#da3612" stroke-width="1.45" stroke-linejoin="round"/>
<path d="M424.80,300.30a2.8,2.8 0 1,0 5.6,0a2.8,2.8 0 1,0 -5.6,0M434.36,300.30a2.8,2.8 0 1,0 5.6,0a2.8,2.8 0 1,0 -5.6,0M443.91,300.30a2.8,2.8 0 1,0 5.6,0a2.8,2.8 0 1,0 -5.6,0M453.47,300.30a2.8,2.8 0 1,0 5.6,0a2.8,2.8 0 1,0 -5.6,0M463.03,300.30a2.8,2.8 0 1,0 5.6,0a2.8,2.8 0 1,0 -5.6,0M464.94,300.30a2.8,2.8 0 1,0 5.6,0a2.8,2.8 0 1,0 -5.6,0M466.85,300.30a2.8,2.8 0 1,0 5.6,0a2.8,2.8 0 1,0 -5.6,0M468.76,300.30a2.8,2.8 0 1,0 5.6,0a2.8,2.8 0 1,0 -5.6,0M470.67,300.30a2.8,2.8 0 1,0 5.6,0a2.8,2.8 0 1,0 -5.6,0M471.25,169.40a2.8,2.8 0 1,0 5.6,0a2.8,2.8 0 1,0 -5.6,0M472.58,168.81a2.8,2.8 0 1,0 5.6,0a2.8,2.8 0 1,0 -5.6,0M474.49,167.32a2.8,2.8 0 1,0 5.6,0a2.8,2.8 0 1,0 -5.6,0M476.41,165.84a2.8,2.8 0 1,0 5.6,0a2.8,2.8 0 1,0 -5.6,0M478.32,164.36a2.8,2.8 0 1,0 5.6,0a2.8,2.8 0 1,0 -5.6,0M480.23,162.88a2.8,2.8 0 1,0 5.6,0a2.8,2.8 0 1,0 -5.6,0M482.14,161.89a2.8,2.8 0 1,0 5.6,0a2.8,2.8 0 1,0 -5.6,0M491.70,155.34a2.8,2.8 0 1,0 5.6,0a2.8,2.8 0 1,0 -5.6,0M501.25,149.34a2.8,2.8 0 1,0 5.6,0a2.8,2.8 0 1,0 -5.6,0M510.81,142.97a2.8,2.8 0 1,0 5.6,0a2.8,2.8 0 1,0 -5.6,0M520.37,137.16a2.8,2.8 0 1,0 5.6,0a2.8,2.8 0 1,0 -5.6,0M529.92,131.93a2.8,2.8 0 1,0 5.6,0a2.8,2.8 0 1,0 -5.6,0M539.48,126.77a2.8,2.8 0 1,0 5.6,0a2.8,2.8 0 1,0 -5.6,0M549.04,121.56a2.8,2.8 0 1,0 5.6,0a2.8,2.8 0 1,0 -5.6,0M558.59,116.80a2.8,2.8 0 1,0 5.6,0a2.8,2.8 0 1,0 -5.6,0M568.15,111.86a2.8,2.8 0 1,0 5.6,0a2.8,2.8 0 1,0 -5.6,0M577.71,107.02a2.8,2.8 0 1,0 5.6,0a2.8,2.8 0 1,0 -5.6,0M587.26,102.09a2.8,2.8 0 1,0 5.6,0a2.8,2.8 0 1,0 -5.6,0M596.82,97.53a2.8,2.8 0 1,0 5.6,0a2.8,2.8 0 1,0 -5.6,0M606.38,92.74a2.8,2.8 0 1,0 5.6,0a2.8,2.8 0 1,0 -5.6,0M615.93,88.73a2.8,2.8 0 1,0 5.6,0a2.8,2.8 0 1,0 -5.6,0M625.49,83.78a2.8,2.8 0 1,0 5.6,0a2.8,2.8 0 1,0 -5.6,0M635.05,78.84a2.8,2.8 0 1,0 5.6,0a2.8,2.8 0 1,0 -5.6,0M644.60,74.88a2.8,2.8 0 1,0 5.6,0a2.8,2.8 0 1,0 -5.6,0M654.16,70.43a2.8,2.8 0 1,0 5.6,0a2.8,2.8 0 1,0 -5.6,0M663.72,77.16a2.8,2.8 0 1,0 5.6,0a2.8,2.8 0 1,0 -5.6,0M673.27,95.94a2.8,2.8 0 1,0 5.6,0a2.8,2.8 0 1,0 -5.6,0M682.83,72.21a2.8,2.8 0 1,0 5.6,0a2.8,2.8 0 1,0 -5.6,0M692.39,69.64a2.8,2.8 0 1,0 5.6,0a2.8,2.8 0 1,0 -5.6,0M701.94,57.29a2.8,2.8 0 1,0 5.6,0a2.8,2.8 0 1,0 -5.6,0M711.50,52.14a2.8,2.8 0 1,0 5.6,0a2.8,2.8 0 1,0 -5.6,0" fill="none" stroke="#000" stroke-width="1.3"/>
<path d="M427.60,300.30L437.16,300.30L446.71,300.30L450.15,300.30L450.15,195.30L455.51,188.88L465.83,179.09L475.38,170.78L484.94,161.52L494.50,155.34L504.05,149.34L513.61,142.97L523.17,137.16L532.72,131.93L542.28,126.77L551.84,121.56L561.39,116.80L570.95,111.86L580.51,107.02L590.06,102.09L599.62,97.53L609.18,92.74L618.73,88.73L628.29,83.78L637.85,78.84L647.40,74.88L656.96,70.43L666.52,68.95L676.07,69.94L685.63,66.68L695.19,65.59L704.74,62.82L714.30,54.12" fill="none" stroke="#0000ff" stroke-width="1.45" stroke-dasharray="4.6,3.4"/>
<path d="M425.60,300.30a2.0,2.0 0 1,0 4.0,0a2.0,2.0 0 1,0 -4.0,0M435.16,300.30a2.0,2.0 0 1,0 4.0,0a2.0,2.0 0 1,0 -4.0,0M444.71,300.30a2.0,2.0 0 1,0 4.0,0a2.0,2.0 0 1,0 -4.0,0M448.15,300.30a2.0,2.0 0 1,0 4.0,0a2.0,2.0 0 1,0 -4.0,0M448.15,195.30a2.0,2.0 0 1,0 4.0,0a2.0,2.0 0 1,0 -4.0,0M453.51,188.88a2.0,2.0 0 1,0 4.0,0a2.0,2.0 0 1,0 -4.0,0M463.83,179.09a2.0,2.0 0 1,0 4.0,0a2.0,2.0 0 1,0 -4.0,0M473.38,170.78a2.0,2.0 0 1,0 4.0,0a2.0,2.0 0 1,0 -4.0,0M482.94,161.52a2.0,2.0 0 1,0 4.0,0a2.0,2.0 0 1,0 -4.0,0M492.50,155.34a2.0,2.0 0 1,0 4.0,0a2.0,2.0 0 1,0 -4.0,0M502.05,149.34a2.0,2.0 0 1,0 4.0,0a2.0,2.0 0 1,0 -4.0,0M511.61,142.97a2.0,2.0 0 1,0 4.0,0a2.0,2.0 0 1,0 -4.0,0M521.17,137.16a2.0,2.0 0 1,0 4.0,0a2.0,2.0 0 1,0 -4.0,0M530.72,131.93a2.0,2.0 0 1,0 4.0,0a2.0,2.0 0 1,0 -4.0,0M540.28,126.77a2.0,2.0 0 1,0 4.0,0a2.0,2.0 0 1,0 -4.0,0M549.84,121.56a2.0,2.0 0 1,0 4.0,0a2.0,2.0 0 1,0 -4.0,0M559.39,116.80a2.0,2.0 0 1,0 4.0,0a2.0,2.0 0 1,0 -4.0,0M568.95,111.86a2.0,2.0 0 1,0 4.0,0a2.0,2.0 0 1,0 -4.0,0M578.51,107.02a2.0,2.0 0 1,0 4.0,0a2.0,2.0 0 1,0 -4.0,0M588.06,102.09a2.0,2.0 0 1,0 4.0,0a2.0,2.0 0 1,0 -4.0,0M597.62,97.53a2.0,2.0 0 1,0 4.0,0a2.0,2.0 0 1,0 -4.0,0M607.18,92.74a2.0,2.0 0 1,0 4.0,0a2.0,2.0 0 1,0 -4.0,0M616.73,88.73a2.0,2.0 0 1,0 4.0,0a2.0,2.0 0 1,0 -4.0,0M626.29,83.78a2.0,2.0 0 1,0 4.0,0a2.0,2.0 0 1,0 -4.0,0M635.85,78.84a2.0,2.0 0 1,0 4.0,0a2.0,2.0 0 1,0 -4.0,0M645.40,74.88a2.0,2.0 0 1,0 4.0,0a2.0,2.0 0 1,0 -4.0,0M654.96,70.43a2.0,2.0 0 1,0 4.0,0a2.0,2.0 0 1,0 -4.0,0M664.52,68.95a2.0,2.0 0 1,0 4.0,0a2.0,2.0 0 1,0 -4.0,0M674.07,69.94a2.0,2.0 0 1,0 4.0,0a2.0,2.0 0 1,0 -4.0,0M683.63,66.68a2.0,2.0 0 1,0 4.0,0a2.0,2.0 0 1,0 -4.0,0M693.19,65.59a2.0,2.0 0 1,0 4.0,0a2.0,2.0 0 1,0 -4.0,0M702.74,62.82a2.0,2.0 0 1,0 4.0,0a2.0,2.0 0 1,0 -4.0,0M712.30,54.12a2.0,2.0 0 1,0 4.0,0a2.0,2.0 0 1,0 -4.0,0" fill="#0000ff" stroke="none"/>
<path d="M427.60,300.30L437.16,300.30L446.71,300.30L456.27,300.30L465.83,300.30L475.38,300.30L484.94,300.30L494.50,300.30L498.70,300.30L498.70,184.53L502.14,177.01L504.05,171.77L511.70,159.42L521.06,151.01L523.17,147.06L532.72,138.95L542.28,131.44L551.84,125.60L561.39,118.88L570.95,113.74L580.51,108.50L590.06,102.09L599.62,97.53L609.18,92.74L618.73,88.73L628.29,83.78L637.85,78.84L647.40,74.88L656.96,70.43L666.52,66.38L676.07,62.33L685.63,58.47L695.19,55.21L704.74,50.76L714.30,49.48" fill="none" stroke="#007f00" stroke-width="1.45" stroke-dasharray="4.6,3.4"/>
<path d="M425.60,300.30a2.0,2.0 0 1,0 4.0,0a2.0,2.0 0 1,0 -4.0,0M435.16,300.30a2.0,2.0 0 1,0 4.0,0a2.0,2.0 0 1,0 -4.0,0M444.71,300.30a2.0,2.0 0 1,0 4.0,0a2.0,2.0 0 1,0 -4.0,0M454.27,300.30a2.0,2.0 0 1,0 4.0,0a2.0,2.0 0 1,0 -4.0,0M463.83,300.30a2.0,2.0 0 1,0 4.0,0a2.0,2.0 0 1,0 -4.0,0M473.38,300.30a2.0,2.0 0 1,0 4.0,0a2.0,2.0 0 1,0 -4.0,0M482.94,300.30a2.0,2.0 0 1,0 4.0,0a2.0,2.0 0 1,0 -4.0,0M492.50,300.30a2.0,2.0 0 1,0 4.0,0a2.0,2.0 0 1,0 -4.0,0M496.70,300.30a2.0,2.0 0 1,0 4.0,0a2.0,2.0 0 1,0 -4.0,0M496.70,184.53a2.0,2.0 0 1,0 4.0,0a2.0,2.0 0 1,0 -4.0,0M500.14,177.01a2.0,2.0 0 1,0 4.0,0a2.0,2.0 0 1,0 -4.0,0M502.05,171.77a2.0,2.0 0 1,0 4.0,0a2.0,2.0 0 1,0 -4.0,0M509.70,159.42a2.0,2.0 0 1,0 4.0,0a2.0,2.0 0 1,0 -4.0,0M519.06,151.01a2.0,2.0 0 1,0 4.0,0a2.0,2.0 0 1,0 -4.0,0M521.17,147.06a2.0,2.0 0 1,0 4.0,0a2.0,2.0 0 1,0 -4.0,0M530.72,138.95a2.0,2.0 0 1,0 4.0,0a2.0,2.0 0 1,0 -4.0,0M540.28,131.44a2.0,2.0 0 1,0 4.0,0a2.0,2.0 0 1,0 -4.0,0M549.84,125.60a2.0,2.0 0 1,0 4.0,0a2.0,2.0 0 1,0 -4.0,0M559.39,118.88a2.0,2.0 0 1,0 4.0,0a2.0,2.0 0 1,0 -4.0,0M568.95,113.74a2.0,2.0 0 1,0 4.0,0a2.0,2.0 0 1,0 -4.0,0M578.51,108.50a2.0,2.0 0 1,0 4.0,0a2.0,2.0 0 1,0 -4.0,0M588.06,102.09a2.0,2.0 0 1,0 4.0,0a2.0,2.0 0 1,0 -4.0,0M597.62,97.53a2.0,2.0 0 1,0 4.0,0a2.0,2.0 0 1,0 -4.0,0M607.18,92.74a2.0,2.0 0 1,0 4.0,0a2.0,2.0 0 1,0 -4.0,0M616.73,88.73a2.0,2.0 0 1,0 4.0,0a2.0,2.0 0 1,0 -4.0,0M626.29,83.78a2.0,2.0 0 1,0 4.0,0a2.0,2.0 0 1,0 -4.0,0M635.85,78.84a2.0,2.0 0 1,0 4.0,0a2.0,2.0 0 1,0 -4.0,0M645.40,74.88a2.0,2.0 0 1,0 4.0,0a2.0,2.0 0 1,0 -4.0,0M654.96,70.43a2.0,2.0 0 1,0 4.0,0a2.0,2.0 0 1,0 -4.0,0M664.52,66.38a2.0,2.0 0 1,0 4.0,0a2.0,2.0 0 1,0 -4.0,0M674.07,62.33a2.0,2.0 0 1,0 4.0,0a2.0,2.0 0 1,0 -4.0,0M683.63,58.47a2.0,2.0 0 1,0 4.0,0a2.0,2.0 0 1,0 -4.0,0M693.19,55.21a2.0,2.0 0 1,0 4.0,0a2.0,2.0 0 1,0 -4.0,0M702.74,50.76a2.0,2.0 0 1,0 4.0,0a2.0,2.0 0 1,0 -4.0,0M712.30,49.48a2.0,2.0 0 1,0 4.0,0a2.0,2.0 0 1,0 -4.0,0" fill="#007f00" stroke="none"/>
<path d="M427.60,300.30L437.16,300.30L446.71,300.30L456.27,300.30L465.83,300.30L475.38,300.30L484.94,300.30L494.50,300.30L504.05,300.30L513.61,300.30L523.17,300.30L532.72,300.30L537.50,300.30L537.50,65.59L542.28,63.42L551.84,58.08L561.39,54.12L570.95,85.76L580.51,90.41L590.06,96.44L599.62,101.58L609.18,93.67L618.73,81.80L628.29,87.74L637.85,77.85L647.40,76.86L656.96,72.91L666.52,66.97L676.07,62.33L685.63,50.76L695.19,44.93L704.74,44.24L714.30,44.24" fill="none" stroke="#ff0000" stroke-width="1.45" stroke-dasharray="4.6,3.4"/>
<path d="M425.60,300.30a2.0,2.0 0 1,0 4.0,0a2.0,2.0 0 1,0 -4.0,0M435.16,300.30a2.0,2.0 0 1,0 4.0,0a2.0,2.0 0 1,0 -4.0,0M444.71,300.30a2.0,2.0 0 1,0 4.0,0a2.0,2.0 0 1,0 -4.0,0M454.27,300.30a2.0,2.0 0 1,0 4.0,0a2.0,2.0 0 1,0 -4.0,0M463.83,300.30a2.0,2.0 0 1,0 4.0,0a2.0,2.0 0 1,0 -4.0,0M473.38,300.30a2.0,2.0 0 1,0 4.0,0a2.0,2.0 0 1,0 -4.0,0M482.94,300.30a2.0,2.0 0 1,0 4.0,0a2.0,2.0 0 1,0 -4.0,0M492.50,300.30a2.0,2.0 0 1,0 4.0,0a2.0,2.0 0 1,0 -4.0,0M502.05,300.30a2.0,2.0 0 1,0 4.0,0a2.0,2.0 0 1,0 -4.0,0M511.61,300.30a2.0,2.0 0 1,0 4.0,0a2.0,2.0 0 1,0 -4.0,0M521.17,300.30a2.0,2.0 0 1,0 4.0,0a2.0,2.0 0 1,0 -4.0,0M530.72,300.30a2.0,2.0 0 1,0 4.0,0a2.0,2.0 0 1,0 -4.0,0M535.50,300.30a2.0,2.0 0 1,0 4.0,0a2.0,2.0 0 1,0 -4.0,0M535.50,65.59a2.0,2.0 0 1,0 4.0,0a2.0,2.0 0 1,0 -4.0,0M540.28,63.42a2.0,2.0 0 1,0 4.0,0a2.0,2.0 0 1,0 -4.0,0M549.84,58.08a2.0,2.0 0 1,0 4.0,0a2.0,2.0 0 1,0 -4.0,0M559.39,54.12a2.0,2.0 0 1,0 4.0,0a2.0,2.0 0 1,0 -4.0,0M568.95,85.76a2.0,2.0 0 1,0 4.0,0a2.0,2.0 0 1,0 -4.0,0M578.51,90.41a2.0,2.0 0 1,0 4.0,0a2.0,2.0 0 1,0 -4.0,0M588.06,96.44a2.0,2.0 0 1,0 4.0,0a2.0,2.0 0 1,0 -4.0,0M597.62,101.58a2.0,2.0 0 1,0 4.0,0a2.0,2.0 0 1,0 -4.0,0M607.18,93.67a2.0,2.0 0 1,0 4.0,0a2.0,2.0 0 1,0 -4.0,0M616.73,81.80a2.0,2.0 0 1,0 4.0,0a2.0,2.0 0 1,0 -4.0,0M626.29,87.74a2.0,2.0 0 1,0 4.0,0a2.0,2.0 0 1,0 -4.0,0M635.85,77.85a2.0,2.0 0 1,0 4.0,0a2.0,2.0 0 1,0 -4.0,0M645.40,76.86a2.0,2.0 0 1,0 4.0,0a2.0,2.0 0 1,0 -4.0,0M654.96,72.91a2.0,2.0 0 1,0 4.0,0a2.0,2.0 0 1,0 -4.0,0M664.52,66.97a2.0,2.0 0 1,0 4.0,0a2.0,2.0 0 1,0 -4.0,0M674.07,62.33a2.0,2.0 0 1,0 4.0,0a2.0,2.0 0 1,0 -4.0,0M683.63,50.76a2.0,2.0 0 1,0 4.0,0a2.0,2.0 0 1,0 -4.0,0M693.19,44.93a2.0,2.0 0 1,0 4.0,0a2.0,2.0 0 1,0 -4.0,0M702.74,44.24a2.0,2.0 0 1,0 4.0,0a2.0,2.0 0 1,0 -4.0,0M712.30,44.24a2.0,2.0 0 1,0 4.0,0a2.0,2.0 0 1,0 -4.0,0" fill="#ff0000" stroke="none"/>
<path d="M427.60,300.30L437.16,300.30L446.71,300.30L446.71,193.23L455.70,185.61L465.25,177.01L475.00,169.01L484.94,161.52L494.50,155.34L504.05,149.34L513.61,142.97L523.17,137.16L532.72,131.93L542.28,126.77L551.84,121.56L561.39,116.80L570.95,111.86L580.51,107.02L590.06,102.09L599.62,97.53L609.18,92.74L618.73,88.73L628.29,83.78L637.85,93.67L647.40,92.68L656.96,79.33L666.52,77.16L676.07,77.16L685.63,67.96L695.19,58.08L704.74,53.13L714.30,48.19" fill="none" stroke="#da3612" stroke-width="1.45" stroke-dasharray="4.6,3.4"/>
<path d="M425.60,300.30a2.0,2.0 0 1,0 4.0,0a2.0,2.0 0 1,0 -4.0,0M435.16,300.30a2.0,2.0 0 1,0 4.0,0a2.0,2.0 0 1,0 -4.0,0M444.71,300.30a2.0,2.0 0 1,0 4.0,0a2.0,2.0 0 1,0 -4.0,0M444.71,193.23a2.0,2.0 0 1,0 4.0,0a2.0,2.0 0 1,0 -4.0,0M453.70,185.61a2.0,2.0 0 1,0 4.0,0a2.0,2.0 0 1,0 -4.0,0M463.25,177.01a2.0,2.0 0 1,0 4.0,0a2.0,2.0 0 1,0 -4.0,0M473.00,169.01a2.0,2.0 0 1,0 4.0,0a2.0,2.0 0 1,0 -4.0,0M482.94,161.52a2.0,2.0 0 1,0 4.0,0a2.0,2.0 0 1,0 -4.0,0M492.50,155.34a2.0,2.0 0 1,0 4.0,0a2.0,2.0 0 1,0 -4.0,0M502.05,149.34a2.0,2.0 0 1,0 4.0,0a2.0,2.0 0 1,0 -4.0,0M511.61,142.97a2.0,2.0 0 1,0 4.0,0a2.0,2.0 0 1,0 -4.0,0M521.17,137.16a2.0,2.0 0 1,0 4.0,0a2.0,2.0 0 1,0 -4.0,0M530.72,131.93a2.0,2.0 0 1,0 4.0,0a2.0,2.0 0 1,0 -4.0,0M540.28,126.77a2.0,2.0 0 1,0 4.0,0a2.0,2.0 0 1,0 -4.0,0M549.84,121.56a2.0,2.0 0 1,0 4.0,0a2.0,2.0 0 1,0 -4.0,0M559.39,116.80a2.0,2.0 0 1,0 4.0,0a2.0,2.0 0 1,0 -4.0,0M568.95,111.86a2.0,2.0 0 1,0 4.0,0a2.0,2.0 0 1,0 -4.0,0M578.51,107.02a2.0,2.0 0 1,0 4.0,0a2.0,2.0 0 1,0 -4.0,0M588.06,102.09a2.0,2.0 0 1,0 4.0,0a2.0,2.0 0 1,0 -4.0,0M597.62,97.53a2.0,2.0 0 1,0 4.0,0a2.0,2.0 0 1,0 -4.0,0M607.18,92.74a2.0,2.0 0 1,0 4.0,0a2.0,2.0 0 1,0 -4.0,0M616.73,88.73a2.0,2.0 0 1,0 4.0,0a2.0,2.0 0 1,0 -4.0,0M626.29,83.78a2.0,2.0 0 1,0 4.0,0a2.0,2.0 0 1,0 -4.0,0M635.85,93.67a2.0,2.0 0 1,0 4.0,0a2.0,2.0 0 1,0 -4.0,0M645.40,92.68a2.0,2.0 0 1,0 4.0,0a2.0,2.0 0 1,0 -4.0,0M654.96,79.33a2.0,2.0 0 1,0 4.0,0a2.0,2.0 0 1,0 -4.0,0M664.52,77.16a2.0,2.0 0 1,0 4.0,0a2.0,2.0 0 1,0 -4.0,0M674.07,77.16a2.0,2.0 0 1,0 4.0,0a2.0,2.0 0 1,0 -4.0,0M683.63,67.96a2.0,2.0 0 1,0 4.0,0a2.0,2.0 0 1,0 -4.0,0M693.19,58.08a2.0,2.0 0 1,0 4.0,0a2.0,2.0 0 1,0 -4.0,0M702.74,53.13a2.0,2.0 0 1,0 4.0,0a2.0,2.0 0 1,0 -4.0,0M712.30,48.19a2.0,2.0 0 1,0 4.0,0a2.0,2.0 0 1,0 -4.0,0" fill="#da3612" stroke="none"/>
<rect x="624.2" y="158.5" width="82" height="124.5" fill="#fff" stroke="#7f7f7f" stroke-width="1.1"/>
<path d="M628.20,167.80h19.6" stroke="#0000ff" stroke-width="1.5"/>
<circle cx="637.80" cy="167.80" r="2.9" fill="none" stroke="#000" stroke-width="1.1"/>
<text x="649.70" y="173.00" font-family="&quot;Liberation Sans&quot;, sans-serif" stroke="#000" stroke-width="0.25" font-size="10.6">R=10<tspan dy="-5.8" dx="0.2" font-size="7.6">3</tspan><tspan dy="5.8" dx="-0.8"> ohm</tspan></text>
<path d="M628.20,183.00h19.6" stroke="#007f00" stroke-width="1.5"/>
<circle cx="637.80" cy="183.00" r="2.9" fill="none" stroke="#000" stroke-width="1.1"/>
<text x="649.70" y="188.20" font-family="&quot;Liberation Sans&quot;, sans-serif" stroke="#000" stroke-width="0.25" font-size="10.6">R=10<tspan dy="-5.8" dx="0.2" font-size="7.6">4</tspan><tspan dy="5.8" dx="-0.8"> ohm</tspan></text>
<path d="M628.20,198.20h19.6" stroke="#ff0000" stroke-width="1.5"/>
<circle cx="637.80" cy="198.20" r="2.9" fill="none" stroke="#000" stroke-width="1.1"/>
<text x="649.70" y="203.40" font-family="&quot;Liberation Sans&quot;, sans-serif" stroke="#000" stroke-width="0.25" font-size="10.6">R=10<tspan dy="-5.8" dx="0.2" font-size="7.6">5</tspan><tspan dy="5.8" dx="-0.8"> ohm</tspan></text>
<path d="M628.20,213.40h19.6" stroke="#da3612" stroke-width="1.5"/>
<circle cx="637.80" cy="213.40" r="2.9" fill="none" stroke="#000" stroke-width="1.1"/>
<text x="649.70" y="218.60" font-family="&quot;Liberation Sans&quot;, sans-serif" stroke="#000" stroke-width="0.25" font-size="10.6">open circuit</text>
<path d="M628.00,228.60h4.6M642.80,228.60h4.6" stroke="#0000ff" stroke-width="1.4"/>
<circle cx="637.70" cy="228.60" r="1.7" fill="#0000ff"/>
<text x="649.70" y="233.80" font-family="&quot;Liberation Sans&quot;, sans-serif" stroke="#000" stroke-width="0.25" font-size="10.6">R=10<tspan dy="-5.8" dx="0.2" font-size="7.6">3</tspan><tspan dy="5.8" dx="-0.8"> ohm</tspan></text>
<path d="M628.00,243.80h4.6M642.80,243.80h4.6" stroke="#007f00" stroke-width="1.4"/>
<circle cx="637.70" cy="243.80" r="1.7" fill="#007f00"/>
<text x="649.70" y="249.00" font-family="&quot;Liberation Sans&quot;, sans-serif" stroke="#000" stroke-width="0.25" font-size="10.6">R=10<tspan dy="-5.8" dx="0.2" font-size="7.6">4</tspan><tspan dy="5.8" dx="-0.8"> ohm</tspan></text>
<path d="M628.00,259.00h4.6M642.80,259.00h4.6" stroke="#ff0000" stroke-width="1.4"/>
<circle cx="637.70" cy="259.00" r="1.7" fill="#ff0000"/>
<text x="649.70" y="264.20" font-family="&quot;Liberation Sans&quot;, sans-serif" stroke="#000" stroke-width="0.25" font-size="10.6">R=10<tspan dy="-5.8" dx="0.2" font-size="7.6">5</tspan><tspan dy="5.8" dx="-0.8"> ohm</tspan></text>
<path d="M628.00,274.20h4.6M642.80,274.20h4.6" stroke="#da3612" stroke-width="1.4"/>
<circle cx="637.70" cy="274.20" r="1.7" fill="#da3612"/>
<text x="649.70" y="279.40" font-family="&quot;Liberation Sans&quot;, sans-serif" stroke="#000" stroke-width="0.25" font-size="10.6">open circuit</text>
<text x="42.20" y="677.90" text-anchor="end" font-family="&quot;Liberation Sans&quot;, sans-serif" stroke="#000" stroke-width="0.25" font-size="10.2">0</text>
<text x="42.20" y="646.94" text-anchor="end" font-family="&quot;Liberation Sans&quot;, sans-serif" stroke="#000" stroke-width="0.25" font-size="10.2">10</text>
<text x="42.20" y="615.99" text-anchor="end" font-family="&quot;Liberation Sans&quot;, sans-serif" stroke="#000" stroke-width="0.25" font-size="10.2">20</text>
<text x="42.20" y="585.03" text-anchor="end" font-family="&quot;Liberation Sans&quot;, sans-serif" stroke="#000" stroke-width="0.25" font-size="10.2">30</text>
<text x="42.20" y="554.08" text-anchor="end" font-family="&quot;Liberation Sans&quot;, sans-serif" stroke="#000" stroke-width="0.25" font-size="10.2">40</text>
<text x="42.20" y="523.12" text-anchor="end" font-family="&quot;Liberation Sans&quot;, sans-serif" stroke="#000" stroke-width="0.25" font-size="10.2">50</text>
<text x="42.20" y="492.17" text-anchor="end" font-family="&quot;Liberation Sans&quot;, sans-serif" stroke="#000" stroke-width="0.25" font-size="10.2">60</text>
<text x="42.20" y="461.21" text-anchor="end" font-family="&quot;Liberation Sans&quot;, sans-serif" stroke="#000" stroke-width="0.25" font-size="10.2">70</text>
<text x="42.20" y="430.26" text-anchor="end" font-family="&quot;Liberation Sans&quot;, sans-serif" stroke="#000" stroke-width="0.25" font-size="10.2">80</text>
<text x="42.20" y="399.30" text-anchor="end" font-family="&quot;Liberation Sans&quot;, sans-serif" stroke="#000" stroke-width="0.25" font-size="10.2">90</text>
<text x="45.60" y="685.30" text-anchor="middle" font-family="&quot;Liberation Sans&quot;, sans-serif" stroke="#000" stroke-width="0.25" font-size="10.2">0</text>
<text x="140.93" y="685.30" text-anchor="middle" font-family="&quot;Liberation Sans&quot;, sans-serif" stroke="#000" stroke-width="0.25" font-size="10.2">0.5</text>
<text x="236.27" y="685.30" text-anchor="middle" font-family="&quot;Liberation Sans&quot;, sans-serif" stroke="#000" stroke-width="0.25" font-size="10.2">1</text>
<text x="331.60" y="685.30" text-anchor="middle" font-family="&quot;Liberation Sans&quot;, sans-serif" stroke="#000" stroke-width="0.25" font-size="10.2">1.5</text>
<path d="M45.60,673.10h2.8M331.60,673.10h-2.8M45.60,642.14h2.8M331.60,642.14h-2.8M45.60,611.19h2.8M331.60,611.19h-2.8M45.60,580.23h2.8M331.60,580.23h-2.8M45.60,549.28h2.8M331.60,549.28h-2.8M45.60,518.32h2.8M331.60,518.32h-2.8M45.60,487.37h2.8M331.60,487.37h-2.8M45.60,456.41h2.8M331.60,456.41h-2.8M45.60,425.46h2.8M331.60,425.46h-2.8M45.60,394.50h2.8M331.60,394.50h-2.8M45.60,673.10v-2.8M45.60,394.50v2.8M140.93,673.10v-2.8M140.93,394.50v2.8M236.27,673.10v-2.8M236.27,394.50v2.8M331.60,673.10v-2.8M331.60,394.50v2.8" stroke="#7f7f7f" stroke-width="0.9" fill="none"/>
<rect x="45.60" y="394.50" width="286.00" height="278.60" fill="none" stroke="#7f7f7f" stroke-width="1.1"/>
<text x="188.60" y="702.50" text-anchor="middle" font-family="&quot;Liberation Sans&quot;, sans-serif" stroke="#000" stroke-width="0.25" font-size="13.2">f (m/s<tspan dy="-6" font-size="10">2</tspan><tspan dy="6">)</tspan></text>
<text transform="translate(17.1,530.00) rotate(-90)" text-anchor="middle" font-family="&quot;Liberation Sans&quot;, sans-serif" stroke="#000" stroke-width="0.25" font-size="13.2">Voltage (V)</text>
<text x="87.59" y="738.60" font-family="&quot;Liberation Serif&quot;, serif" font-size="18.2" textLength="22.42" lengthAdjust="spacingAndGlyphs">(c)</text>
<text x="116.25" y="738.60" font-family="&quot;Liberation Serif&quot;, serif" font-size="18.2" textLength="77.67" lengthAdjust="spacingAndGlyphs">Harvested</text>
<text x="201.70" y="738.60" font-family="&quot;Liberation Serif&quot;, serif" font-size="18.2" textLength="56.48" lengthAdjust="spacingAndGlyphs">voltage</text>
<path d="M45.60,673.10L55.13,673.10L64.67,673.10L74.20,673.10L83.73,673.10L93.27,673.10L95.17,667.85L97.08,667.82L98.99,667.80L100.89,667.77L102.80,667.74L112.33,667.48L121.87,667.11L131.40,666.95L140.93,666.76L150.47,666.49L160.00,666.25L169.53,666.11L179.07,665.82L188.60,665.68L198.13,665.47L207.67,665.32L217.20,665.08L226.73,664.95L236.27,664.70L245.80,664.54L255.33,664.40L264.87,664.26L274.40,664.10L283.93,663.93L293.47,664.00L303.00,663.84L312.53,663.76L322.07,663.56L331.60,663.37" fill="none" stroke="#0000ff" stroke-width="1.45" stroke-linejoin="round"/>
<path d="M42.80,673.10a2.8,2.8 0 1,0 5.6,0a2.8,2.8 0 1,0 -5.6,0M52.33,673.10a2.8,2.8 0 1,0 5.6,0a2.8,2.8 0 1,0 -5.6,0M61.87,673.10a2.8,2.8 0 1,0 5.6,0a2.8,2.8 0 1,0 -5.6,0M71.40,673.10a2.8,2.8 0 1,0 5.6,0a2.8,2.8 0 1,0 -5.6,0M80.93,673.10a2.8,2.8 0 1,0 5.6,0a2.8,2.8 0 1,0 -5.6,0M90.47,673.10a2.8,2.8 0 1,0 5.6,0a2.8,2.8 0 1,0 -5.6,0M92.37,667.85a2.8,2.8 0 1,0 5.6,0a2.8,2.8 0 1,0 -5.6,0M94.28,667.82a2.8,2.8 0 1,0 5.6,0a2.8,2.8 0 1,0 -5.6,0M96.19,667.80a2.8,2.8 0 1,0 5.6,0a2.8,2.8 0 1,0 -5.6,0M98.09,667.77a2.8,2.8 0 1,0 5.6,0a2.8,2.8 0 1,0 -5.6,0M100.00,667.74a2.8,2.8 0 1,0 5.6,0a2.8,2.8 0 1,0 -5.6,0M109.53,667.48a2.8,2.8 0 1,0 5.6,0a2.8,2.8 0 1,0 -5.6,0M119.07,667.11a2.8,2.8 0 1,0 5.6,0a2.8,2.8 0 1,0 -5.6,0M128.60,666.95a2.8,2.8 0 1,0 5.6,0a2.8,2.8 0 1,0 -5.6,0M138.13,666.76a2.8,2.8 0 1,0 5.6,0a2.8,2.8 0 1,0 -5.6,0M147.67,666.49a2.8,2.8 0 1,0 5.6,0a2.8,2.8 0 1,0 -5.6,0M157.20,666.25a2.8,2.8 0 1,0 5.6,0a2.8,2.8 0 1,0 -5.6,0M166.73,666.11a2.8,2.8 0 1,0 5.6,0a2.8,2.8 0 1,0 -5.6,0M176.27,665.82a2.8,2.8 0 1,0 5.6,0a2.8,2.8 0 1,0 -5.6,0M185.80,665.68a2.8,2.8 0 1,0 5.6,0a2.8,2.8 0 1,0 -5.6,0M195.33,665.47a2.8,2.8 0 1,0 5.6,0a2.8,2.8 0 1,0 -5.6,0M204.87,665.32a2.8,2.8 0 1,0 5.6,0a2.8,2.8 0 1,0 -5.6,0M214.40,665.08a2.8,2.8 0 1,0 5.6,0a2.8,2.8 0 1,0 -5.6,0M223.93,664.95a2.8,2.8 0 1,0 5.6,0a2.8,2.8 0 1,0 -5.6,0M233.47,664.70a2.8,2.8 0 1,0 5.6,0a2.8,2.8 0 1,0 -5.6,0M243.00,664.54a2.8,2.8 0 1,0 5.6,0a2.8,2.8 0 1,0 -5.6,0M252.53,664.40a2.8,2.8 0 1,0 5.6,0a2.8,2.8 0 1,0 -5.6,0M262.07,664.26a2.8,2.8 0 1,0 5.6,0a2.8,2.8 0 1,0 -5.6,0M271.60,664.10a2.8,2.8 0 1,0 5.6,0a2.8,2.8 0 1,0 -5.6,0M281.13,663.93a2.8,2.8 0 1,0 5.6,0a2.8,2.8 0 1,0 -5.6,0M290.67,664.00a2.8,2.8 0 1,0 5.6,0a2.8,2.8 0 1,0 -5.6,0M300.20,663.84a2.8,2.8 0 1,0 5.6,0a2.8,2.8 0 1,0 -5.6,0M309.73,663.76a2.8,2.8 0 1,0 5.6,0a2.8,2.8 0 1,0 -5.6,0M319.27,663.56a2.8,2.8 0 1,0 5.6,0a2.8,2.8 0 1,0 -5.6,0M328.80,663.37a2.8,2.8 0 1,0 5.6,0a2.8,2.8 0 1,0 -5.6,0" fill="none" stroke="#000" stroke-width="1.3"/>
<path d="M45.60,673.10L55.13,673.10L64.67,673.10L74.20,673.10L83.73,673.10L93.27,673.10L102.80,673.10L112.33,673.10L121.87,673.10L131.40,673.10L133.31,673.10L135.21,673.10L137.12,673.10L139.03,616.45L140.93,615.52L150.47,612.89L160.00,609.95L169.53,607.29L179.07,605.31L188.60,602.89L198.13,600.60L207.67,598.71L217.20,597.01L226.73,595.62L236.27,593.51L245.80,591.69L255.33,589.52L264.87,588.41L274.40,587.04L283.93,585.31L293.47,583.95L303.00,582.49L312.53,581.10L322.07,579.92L331.60,578.31" fill="none" stroke="#007f00" stroke-width="1.45" stroke-linejoin="round"/>
<path d="M42.80,673.10a2.8,2.8 0 1,0 5.6,0a2.8,2.8 0 1,0 -5.6,0M52.33,673.10a2.8,2.8 0 1,0 5.6,0a2.8,2.8 0 1,0 -5.6,0M61.87,673.10a2.8,2.8 0 1,0 5.6,0a2.8,2.8 0 1,0 -5.6,0M71.40,673.10a2.8,2.8 0 1,0 5.6,0a2.8,2.8 0 1,0 -5.6,0M80.93,673.10a2.8,2.8 0 1,0 5.6,0a2.8,2.8 0 1,0 -5.6,0M90.47,673.10a2.8,2.8 0 1,0 5.6,0a2.8,2.8 0 1,0 -5.6,0M100.00,673.10a2.8,2.8 0 1,0 5.6,0a2.8,2.8 0 1,0 -5.6,0M109.53,673.10a2.8,2.8 0 1,0 5.6,0a2.8,2.8 0 1,0 -5.6,0M119.07,673.10a2.8,2.8 0 1,0 5.6,0a2.8,2.8 0 1,0 -5.6,0M128.60,673.10a2.8,2.8 0 1,0 5.6,0a2.8,2.8 0 1,0 -5.6,0M130.51,673.10a2.8,2.8 0 1,0 5.6,0a2.8,2.8 0 1,0 -5.6,0M132.41,673.10a2.8,2.8 0 1,0 5.6,0a2.8,2.8 0 1,0 -5.6,0M134.32,673.10a2.8,2.8 0 1,0 5.6,0a2.8,2.8 0 1,0 -5.6,0M136.23,616.45a2.8,2.8 0 1,0 5.6,0a2.8,2.8 0 1,0 -5.6,0M138.13,615.52a2.8,2.8 0 1,0 5.6,0a2.8,2.8 0 1,0 -5.6,0M147.67,612.89a2.8,2.8 0 1,0 5.6,0a2.8,2.8 0 1,0 -5.6,0M157.20,609.95a2.8,2.8 0 1,0 5.6,0a2.8,2.8 0 1,0 -5.6,0M166.73,607.29a2.8,2.8 0 1,0 5.6,0a2.8,2.8 0 1,0 -5.6,0M176.27,605.31a2.8,2.8 0 1,0 5.6,0a2.8,2.8 0 1,0 -5.6,0M185.80,602.89a2.8,2.8 0 1,0 5.6,0a2.8,2.8 0 1,0 -5.6,0M195.33,600.60a2.8,2.8 0 1,0 5.6,0a2.8,2.8 0 1,0 -5.6,0M204.87,598.71a2.8,2.8 0 1,0 5.6,0a2.8,2.8 0 1,0 -5.6,0M214.40,597.01a2.8,2.8 0 1,0 5.6,0a2.8,2.8 0 1,0 -5.6,0M223.93,595.62a2.8,2.8 0 1,0 5.6,0a2.8,2.8 0 1,0 -5.6,0M233.47,593.51a2.8,2.8 0 1,0 5.6,0a2.8,2.8 0 1,0 -5.6,0M243.00,591.69a2.8,2.8 0 1,0 5.6,0a2.8,2.8 0 1,0 -5.6,0M252.53,589.52a2.8,2.8 0 1,0 5.6,0a2.8,2.8 0 1,0 -5.6,0M262.07,588.41a2.8,2.8 0 1,0 5.6,0a2.8,2.8 0 1,0 -5.6,0M271.60,587.04a2.8,2.8 0 1,0 5.6,0a2.8,2.8 0 1,0 -5.6,0M281.13,585.31a2.8,2.8 0 1,0 5.6,0a2.8,2.8 0 1,0 -5.6,0M290.67,583.95a2.8,2.8 0 1,0 5.6,0a2.8,2.8 0 1,0 -5.6,0M300.20,582.49a2.8,2.8 0 1,0 5.6,0a2.8,2.8 0 1,0 -5.6,0M309.73,581.10a2.8,2.8 0 1,0 5.6,0a2.8,2.8 0 1,0 -5.6,0M319.27,579.92a2.8,2.8 0 1,0 5.6,0a2.8,2.8 0 1,0 -5.6,0M328.80,578.31a2.8,2.8 0 1,0 5.6,0a2.8,2.8 0 1,0 -5.6,0" fill="none" stroke="#000" stroke-width="1.3"/>
<path d="M45.60,673.10L55.13,673.10L64.67,673.10L74.20,673.10L83.73,673.10L93.27,673.10L102.80,673.10L112.33,673.10L121.87,673.10L131.40,673.10L140.93,673.10L150.47,673.10L160.00,673.10L169.53,673.10L179.07,673.10L188.60,673.10L198.13,673.10L207.67,673.10L217.20,673.10L226.73,673.10L236.27,673.10L238.17,458.42L240.08,440.31L241.99,470.65L243.89,455.79L245.80,448.83L255.33,441.86L264.87,448.83L274.40,428.55L283.93,435.52L293.47,450.68L303.00,409.36L312.53,420.81L322.07,402.39L331.60,406.57" fill="none" stroke="#ff0000" stroke-width="1.45" stroke-linejoin="round"/>
<path d="M42.80,673.10a2.8,2.8 0 1,0 5.6,0a2.8,2.8 0 1,0 -5.6,0M52.33,673.10a2.8,2.8 0 1,0 5.6,0a2.8,2.8 0 1,0 -5.6,0M61.87,673.10a2.8,2.8 0 1,0 5.6,0a2.8,2.8 0 1,0 -5.6,0M71.40,673.10a2.8,2.8 0 1,0 5.6,0a2.8,2.8 0 1,0 -5.6,0M80.93,673.10a2.8,2.8 0 1,0 5.6,0a2.8,2.8 0 1,0 -5.6,0M90.47,673.10a2.8,2.8 0 1,0 5.6,0a2.8,2.8 0 1,0 -5.6,0M100.00,673.10a2.8,2.8 0 1,0 5.6,0a2.8,2.8 0 1,0 -5.6,0M109.53,673.10a2.8,2.8 0 1,0 5.6,0a2.8,2.8 0 1,0 -5.6,0M119.07,673.10a2.8,2.8 0 1,0 5.6,0a2.8,2.8 0 1,0 -5.6,0M128.60,673.10a2.8,2.8 0 1,0 5.6,0a2.8,2.8 0 1,0 -5.6,0M138.13,673.10a2.8,2.8 0 1,0 5.6,0a2.8,2.8 0 1,0 -5.6,0M147.67,673.10a2.8,2.8 0 1,0 5.6,0a2.8,2.8 0 1,0 -5.6,0M157.20,673.10a2.8,2.8 0 1,0 5.6,0a2.8,2.8 0 1,0 -5.6,0M166.73,673.10a2.8,2.8 0 1,0 5.6,0a2.8,2.8 0 1,0 -5.6,0M176.27,673.10a2.8,2.8 0 1,0 5.6,0a2.8,2.8 0 1,0 -5.6,0M185.80,673.10a2.8,2.8 0 1,0 5.6,0a2.8,2.8 0 1,0 -5.6,0M195.33,673.10a2.8,2.8 0 1,0 5.6,0a2.8,2.8 0 1,0 -5.6,0M204.87,673.10a2.8,2.8 0 1,0 5.6,0a2.8,2.8 0 1,0 -5.6,0M214.40,673.10a2.8,2.8 0 1,0 5.6,0a2.8,2.8 0 1,0 -5.6,0M223.93,673.10a2.8,2.8 0 1,0 5.6,0a2.8,2.8 0 1,0 -5.6,0M233.47,673.10a2.8,2.8 0 1,0 5.6,0a2.8,2.8 0 1,0 -5.6,0M235.37,458.42a2.8,2.8 0 1,0 5.6,0a2.8,2.8 0 1,0 -5.6,0M237.28,440.31a2.8,2.8 0 1,0 5.6,0a2.8,2.8 0 1,0 -5.6,0M239.19,470.65a2.8,2.8 0 1,0 5.6,0a2.8,2.8 0 1,0 -5.6,0M241.09,455.79a2.8,2.8 0 1,0 5.6,0a2.8,2.8 0 1,0 -5.6,0M243.00,448.83a2.8,2.8 0 1,0 5.6,0a2.8,2.8 0 1,0 -5.6,0M252.53,441.86a2.8,2.8 0 1,0 5.6,0a2.8,2.8 0 1,0 -5.6,0M262.07,448.83a2.8,2.8 0 1,0 5.6,0a2.8,2.8 0 1,0 -5.6,0M271.60,428.55a2.8,2.8 0 1,0 5.6,0a2.8,2.8 0 1,0 -5.6,0M281.13,435.52a2.8,2.8 0 1,0 5.6,0a2.8,2.8 0 1,0 -5.6,0M290.67,450.68a2.8,2.8 0 1,0 5.6,0a2.8,2.8 0 1,0 -5.6,0M300.20,409.36a2.8,2.8 0 1,0 5.6,0a2.8,2.8 0 1,0 -5.6,0M309.73,420.81a2.8,2.8 0 1,0 5.6,0a2.8,2.8 0 1,0 -5.6,0M319.27,402.39a2.8,2.8 0 1,0 5.6,0a2.8,2.8 0 1,0 -5.6,0M328.80,406.57a2.8,2.8 0 1,0 5.6,0a2.8,2.8 0 1,0 -5.6,0" fill="none" stroke="#000" stroke-width="1.3"/>
<path d="M45.60,673.10L55.13,673.10L64.67,673.10L68.10,673.10L68.10,668.80L74.20,668.61L83.73,668.30L93.27,667.87L102.80,667.74L112.33,667.48L121.87,667.11L131.40,666.95L140.93,666.76L150.47,666.49L160.00,666.25L169.53,666.11L179.07,665.82L188.60,665.68L198.13,665.47L207.67,665.32L217.20,665.08L226.73,664.95L236.27,664.70L245.80,664.54L255.33,664.40L264.87,664.26L274.40,664.10L283.93,663.93L293.47,664.00L303.00,663.84L312.53,663.76L322.07,663.56L331.60,663.37" fill="none" stroke="#0000ff" stroke-width="1.45" stroke-dasharray="4.6,3.4"/>
<path d="M43.60,673.10a2.0,2.0 0 1,0 4.0,0a2.0,2.0 0 1,0 -4.0,0M53.13,673.10a2.0,2.0 0 1,0 4.0,0a2.0,2.0 0 1,0 -4.0,0M62.67,673.10a2.0,2.0 0 1,0 4.0,0a2.0,2.0 0 1,0 -4.0,0M66.10,673.10a2.0,2.0 0 1,0 4.0,0a2.0,2.0 0 1,0 -4.0,0M66.10,668.80a2.0,2.0 0 1,0 4.0,0a2.0,2.0 0 1,0 -4.0,0M72.20,668.61a2.0,2.0 0 1,0 4.0,0a2.0,2.0 0 1,0 -4.0,0M81.73,668.30a2.0,2.0 0 1,0 4.0,0a2.0,2.0 0 1,0 -4.0,0M91.27,667.87a2.0,2.0 0 1,0 4.0,0a2.0,2.0 0 1,0 -4.0,0M100.80,667.74a2.0,2.0 0 1,0 4.0,0a2.0,2.0 0 1,0 -4.0,0M110.33,667.48a2.0,2.0 0 1,0 4.0,0a2.0,2.0 0 1,0 -4.0,0M119.87,667.11a2.0,2.0 0 1,0 4.0,0a2.0,2.0 0 1,0 -4.0,0M129.40,666.95a2.0,2.0 0 1,0 4.0,0a2.0,2.0 0 1,0 -4.0,0M138.93,666.76a2.0,2.0 0 1,0 4.0,0a2.0,2.0 0 1,0 -4.0,0M148.47,666.49a2.0,2.0 0 1,0 4.0,0a2.0,2.0 0 1,0 -4.0,0M158.00,666.25a2.0,2.0 0 1,0 4.0,0a2.0,2.0 0 1,0 -4.0,0M167.53,666.11a2.0,2.0 0 1,0 4.0,0a2.0,2.0 0 1,0 -4.0,0M177.07,665.82a2.0,2.0 0 1,0 4.0,0a2.0,2.0 0 1,0 -4.0,0M186.60,665.68a2.0,2.0 0 1,0 4.0,0a2.0,2.0 0 1,0 -4.0,0M196.13,665.47a2.0,2.0 0 1,0 4.0,0a2.0,2.0 0 1,0 -4.0,0M205.67,665.32a2.0,2.0 0 1,0 4.0,0a2.0,2.0 0 1,0 -4.0,0M215.20,665.08a2.0,2.0 0 1,0 4.0,0a2.0,2.0 0 1,0 -4.0,0M224.73,664.95a2.0,2.0 0 1,0 4.0,0a2.0,2.0 0 1,0 -4.0,0M234.27,664.70a2.0,2.0 0 1,0 4.0,0a2.0,2.0 0 1,0 -4.0,0M243.80,664.54a2.0,2.0 0 1,0 4.0,0a2.0,2.0 0 1,0 -4.0,0M253.33,664.40a2.0,2.0 0 1,0 4.0,0a2.0,2.0 0 1,0 -4.0,0M262.87,664.26a2.0,2.0 0 1,0 4.0,0a2.0,2.0 0 1,0 -4.0,0M272.40,664.10a2.0,2.0 0 1,0 4.0,0a2.0,2.0 0 1,0 -4.0,0M281.93,663.93a2.0,2.0 0 1,0 4.0,0a2.0,2.0 0 1,0 -4.0,0M291.47,664.00a2.0,2.0 0 1,0 4.0,0a2.0,2.0 0 1,0 -4.0,0M301.00,663.84a2.0,2.0 0 1,0 4.0,0a2.0,2.0 0 1,0 -4.0,0M310.53,663.76a2.0,2.0 0 1,0 4.0,0a2.0,2.0 0 1,0 -4.0,0M320.07,663.56a2.0,2.0 0 1,0 4.0,0a2.0,2.0 0 1,0 -4.0,0M329.60,663.37a2.0,2.0 0 1,0 4.0,0a2.0,2.0 0 1,0 -4.0,0" fill="#0000ff" stroke="none"/>
<path d="M45.60,673.10L55.13,673.10L64.67,673.10L74.20,673.10L83.73,673.10L93.27,673.10L102.80,673.10L112.33,673.10L116.72,673.10L116.72,629.92L118.05,627.90L119.58,626.05L121.87,624.50L130.83,619.86L139.03,616.45L140.93,615.52L150.47,612.89L160.00,609.95L169.53,607.29L179.07,605.31L188.60,602.89L198.13,600.60L207.67,598.71L217.20,597.01L226.73,595.62L236.27,593.51L245.80,591.69L255.33,589.52L264.87,588.41L274.40,587.04L283.93,585.31L293.47,583.95L303.00,582.49L312.53,581.10L322.07,579.92L331.60,578.31" fill="none" stroke="#007f00" stroke-width="1.45" stroke-dasharray="4.6,3.4"/>
<path d="M43.60,673.10a2.0,2.0 0 1,0 4.0,0a2.0,2.0 0 1,0 -4.0,0M53.13,673.10a2.0,2.0 0 1,0 4.0,0a2.0,2.0 0 1,0 -4.0,0M62.67,673.10a2.0,2.0 0 1,0 4.0,0a2.0,2.0 0 1,0 -4.0,0M72.20,673.10a2.0,2.0 0 1,0 4.0,0a2.0,2.0 0 1,0 -4.0,0M81.73,673.10a2.0,2.0 0 1,0 4.0,0a2.0,2.0 0 1,0 -4.0,0M91.27,673.10a2.0,2.0 0 1,0 4.0,0a2.0,2.0 0 1,0 -4.0,0M100.80,673.10a2.0,2.0 0 1,0 4.0,0a2.0,2.0 0 1,0 -4.0,0M110.33,673.10a2.0,2.0 0 1,0 4.0,0a2.0,2.0 0 1,0 -4.0,0M114.72,673.10a2.0,2.0 0 1,0 4.0,0a2.0,2.0 0 1,0 -4.0,0M114.72,629.92a2.0,2.0 0 1,0 4.0,0a2.0,2.0 0 1,0 -4.0,0M116.05,627.90a2.0,2.0 0 1,0 4.0,0a2.0,2.0 0 1,0 -4.0,0M117.58,626.05a2.0,2.0 0 1,0 4.0,0a2.0,2.0 0 1,0 -4.0,0M119.87,624.50a2.0,2.0 0 1,0 4.0,0a2.0,2.0 0 1,0 -4.0,0M128.83,619.86a2.0,2.0 0 1,0 4.0,0a2.0,2.0 0 1,0 -4.0,0M137.03,616.45a2.0,2.0 0 1,0 4.0,0a2.0,2.0 0 1,0 -4.0,0M138.93,615.52a2.0,2.0 0 1,0 4.0,0a2.0,2.0 0 1,0 -4.0,0M148.47,612.89a2.0,2.0 0 1,0 4.0,0a2.0,2.0 0 1,0 -4.0,0M158.00,609.95a2.0,2.0 0 1,0 4.0,0a2.0,2.0 0 1,0 -4.0,0M167.53,607.29a2.0,2.0 0 1,0 4.0,0a2.0,2.0 0 1,0 -4.0,0M177.07,605.31a2.0,2.0 0 1,0 4.0,0a2.0,2.0 0 1,0 -4.0,0M186.60,602.89a2.0,2.0 0 1,0 4.0,0a2.0,2.0 0 1,0 -4.0,0M196.13,600.60a2.0,2.0 0 1,0 4.0,0a2.0,2.0 0 1,0 -4.0,0M205.67,598.71a2.0,2.0 0 1,0 4.0,0a2.0,2.0 0 1,0 -4.0,0M215.20,597.01a2.0,2.0 0 1,0 4.0,0a2.0,2.0 0 1,0 -4.0,0M224.73,595.62a2.0,2.0 0 1,0 4.0,0a2.0,2.0 0 1,0 -4.0,0M234.27,593.51a2.0,2.0 0 1,0 4.0,0a2.0,2.0 0 1,0 -4.0,0M243.80,591.69a2.0,2.0 0 1,0 4.0,0a2.0,2.0 0 1,0 -4.0,0M253.33,589.52a2.0,2.0 0 1,0 4.0,0a2.0,2.0 0 1,0 -4.0,0M262.87,588.41a2.0,2.0 0 1,0 4.0,0a2.0,2.0 0 1,0 -4.0,0M272.40,587.04a2.0,2.0 0 1,0 4.0,0a2.0,2.0 0 1,0 -4.0,0M281.93,585.31a2.0,2.0 0 1,0 4.0,0a2.0,2.0 0 1,0 -4.0,0M291.47,583.95a2.0,2.0 0 1,0 4.0,0a2.0,2.0 0 1,0 -4.0,0M301.00,582.49a2.0,2.0 0 1,0 4.0,0a2.0,2.0 0 1,0 -4.0,0M310.53,581.10a2.0,2.0 0 1,0 4.0,0a2.0,2.0 0 1,0 -4.0,0M320.07,579.92a2.0,2.0 0 1,0 4.0,0a2.0,2.0 0 1,0 -4.0,0M329.60,578.31a2.0,2.0 0 1,0 4.0,0a2.0,2.0 0 1,0 -4.0,0" fill="#007f00" stroke="none"/>
<path d="M45.60,673.10L55.13,673.10L64.67,673.10L74.20,673.10L83.73,673.10L93.27,673.10L102.80,673.10L112.33,673.10L121.87,673.10L131.40,673.10L140.93,673.10L150.47,673.10L155.23,673.10L155.23,424.53L160.00,421.74L169.53,416.79L179.07,413.38L188.60,448.05L198.13,450.22L207.67,461.21L217.20,460.28L226.73,450.22L236.27,443.81L245.80,450.22L255.33,435.52L264.87,453.32L274.40,434.12L283.93,428.55L293.47,417.72L303.00,409.36L312.53,396.05L322.07,412.14L331.60,401.00" fill="none" stroke="#ff0000" stroke-width="1.45" stroke-dasharray="4.6,3.4"/>
<path d="M43.60,673.10a2.0,2.0 0 1,0 4.0,0a2.0,2.0 0 1,0 -4.0,0M53.13,673.10a2.0,2.0 0 1,0 4.0,0a2.0,2.0 0 1,0 -4.0,0M62.67,673.10a2.0,2.0 0 1,0 4.0,0a2.0,2.0 0 1,0 -4.0,0M72.20,673.10a2.0,2.0 0 1,0 4.0,0a2.0,2.0 0 1,0 -4.0,0M81.73,673.10a2.0,2.0 0 1,0 4.0,0a2.0,2.0 0 1,0 -4.0,0M91.27,673.10a2.0,2.0 0 1,0 4.0,0a2.0,2.0 0 1,0 -4.0,0M100.80,673.10a2.0,2.0 0 1,0 4.0,0a2.0,2.0 0 1,0 -4.0,0M110.33,673.10a2.0,2.0 0 1,0 4.0,0a2.0,2.0 0 1,0 -4.0,0M119.87,673.10a2.0,2.0 0 1,0 4.0,0a2.0,2.0 0 1,0 -4.0,0M129.40,673.10a2.0,2.0 0 1,0 4.0,0a2.0,2.0 0 1,0 -4.0,0M138.93,673.10a2.0,2.0 0 1,0 4.0,0a2.0,2.0 0 1,0 -4.0,0M148.47,673.10a2.0,2.0 0 1,0 4.0,0a2.0,2.0 0 1,0 -4.0,0M153.23,673.10a2.0,2.0 0 1,0 4.0,0a2.0,2.0 0 1,0 -4.0,0M153.23,424.53a2.0,2.0 0 1,0 4.0,0a2.0,2.0 0 1,0 -4.0,0M158.00,421.74a2.0,2.0 0 1,0 4.0,0a2.0,2.0 0 1,0 -4.0,0M167.53,416.79a2.0,2.0 0 1,0 4.0,0a2.0,2.0 0 1,0 -4.0,0M177.07,413.38a2.0,2.0 0 1,0 4.0,0a2.0,2.0 0 1,0 -4.0,0M186.60,448.05a2.0,2.0 0 1,0 4.0,0a2.0,2.0 0 1,0 -4.0,0M196.13,450.22a2.0,2.0 0 1,0 4.0,0a2.0,2.0 0 1,0 -4.0,0M205.67,461.21a2.0,2.0 0 1,0 4.0,0a2.0,2.0 0 1,0 -4.0,0M215.20,460.28a2.0,2.0 0 1,0 4.0,0a2.0,2.0 0 1,0 -4.0,0M224.73,450.22a2.0,2.0 0 1,0 4.0,0a2.0,2.0 0 1,0 -4.0,0M234.27,443.81a2.0,2.0 0 1,0 4.0,0a2.0,2.0 0 1,0 -4.0,0M243.80,450.22a2.0,2.0 0 1,0 4.0,0a2.0,2.0 0 1,0 -4.0,0M253.33,435.52a2.0,2.0 0 1,0 4.0,0a2.0,2.0 0 1,0 -4.0,0M262.87,453.32a2.0,2.0 0 1,0 4.0,0a2.0,2.0 0 1,0 -4.0,0M272.40,434.12a2.0,2.0 0 1,0 4.0,0a2.0,2.0 0 1,0 -4.0,0M281.93,428.55a2.0,2.0 0 1,0 4.0,0a2.0,2.0 0 1,0 -4.0,0M291.47,417.72a2.0,2.0 0 1,0 4.0,0a2.0,2.0 0 1,0 -4.0,0M301.00,409.36a2.0,2.0 0 1,0 4.0,0a2.0,2.0 0 1,0 -4.0,0M310.53,396.05a2.0,2.0 0 1,0 4.0,0a2.0,2.0 0 1,0 -4.0,0M320.07,412.14a2.0,2.0 0 1,0 4.0,0a2.0,2.0 0 1,0 -4.0,0M329.60,401.00a2.0,2.0 0 1,0 4.0,0a2.0,2.0 0 1,0 -4.0,0" fill="#ff0000" stroke="none"/>
<rect x="56.5" y="405.7" width="82.4" height="97.2" fill="#fff" stroke="#7f7f7f" stroke-width="1.1"/>
<path d="M60.50,414.90h19.6" stroke="#0000ff" stroke-width="1.5"/>
<circle cx="70.10" cy="414.90" r="2.9" fill="none" stroke="#000" stroke-width="1.1"/>
<text x="82.00" y="420.10" font-family="&quot;Liberation Sans&quot;, sans-serif" stroke="#000" stroke-width="0.25" font-size="10.6">R=10<tspan dy="-5.8" dx="0.2" font-size="7.6">3</tspan><tspan dy="5.8" dx="-0.8"> ohm</tspan></text>
<path d="M60.50,430.75h19.6" stroke="#007f00" stroke-width="1.5"/>
<circle cx="70.10" cy="430.75" r="2.9" fill="none" stroke="#000" stroke-width="1.1"/>
<text x="82.00" y="435.95" font-family="&quot;Liberation Sans&quot;, sans-serif" stroke="#000" stroke-width="0.25" font-size="10.6">R=10<tspan dy="-5.8" dx="0.2" font-size="7.6">4</tspan><tspan dy="5.8" dx="-0.8"> ohm</tspan></text>
<path d="M60.50,446.60h19.6" stroke="#ff0000" stroke-width="1.5"/>
<circle cx="70.10" cy="446.60" r="2.9" fill="none" stroke="#000" stroke-width="1.1"/>
<text x="82.00" y="451.80" font-family="&quot;Liberation Sans&quot;, sans-serif" stroke="#000" stroke-width="0.25" font-size="10.6">R=10<tspan dy="-5.8" dx="0.2" font-size="7.6">5</tspan><tspan dy="5.8" dx="-0.8"> ohm</tspan></text>
<path d="M60.30,462.45h4.6M75.10,462.45h4.6" stroke="#0000ff" stroke-width="1.4"/>
<circle cx="70.00" cy="462.45" r="1.7" fill="#0000ff"/>
<text x="82.00" y="467.65" font-family="&quot;Liberation Sans&quot;, sans-serif" stroke="#000" stroke-width="0.25" font-size="10.6">R=10<tspan dy="-5.8" dx="0.2" font-size="7.6">3</tspan><tspan dy="5.8" dx="-0.8"> ohm</tspan></text>
<path d="M60.30,478.30h4.6M75.10,478.30h4.6" stroke="#007f00" stroke-width="1.4"/>
<circle cx="70.00" cy="478.30" r="1.7" fill="#007f00"/>
<text x="82.00" y="483.50" font-family="&quot;Liberation Sans&quot;, sans-serif" stroke="#000" stroke-width="0.25" font-size="10.6">R=10<tspan dy="-5.8" dx="0.2" font-size="7.6">4</tspan><tspan dy="5.8" dx="-0.8"> ohm</tspan></text>
<path d="M60.30,494.15h4.6M75.10,494.15h4.6" stroke="#ff0000" stroke-width="1.4"/>
<circle cx="70.00" cy="494.15" r="1.7" fill="#ff0000"/>
<text x="82.00" y="499.35" font-family="&quot;Liberation Sans&quot;, sans-serif" stroke="#000" stroke-width="0.25" font-size="10.6">R=10<tspan dy="-5.8" dx="0.2" font-size="7.6">5</tspan><tspan dy="5.8" dx="-0.8"> ohm</tspan></text>
<text x="423.10" y="679.90" text-anchor="end" font-family="&quot;Liberation Sans&quot;, sans-serif" stroke="#000" stroke-width="0.25" font-size="10.2">0</text>
<text x="423.10" y="652.07" text-anchor="end" font-family="&quot;Liberation Sans&quot;, sans-serif" stroke="#000" stroke-width="0.25" font-size="10.2">0.01</text>
<text x="423.10" y="624.24" text-anchor="end" font-family="&quot;Liberation Sans&quot;, sans-serif" stroke="#000" stroke-width="0.25" font-size="10.2">0.02</text>
<text x="423.10" y="596.41" text-anchor="end" font-family="&quot;Liberation Sans&quot;, sans-serif" stroke="#000" stroke-width="0.25" font-size="10.2">0.03</text>
<text x="423.10" y="568.58" text-anchor="end" font-family="&quot;Liberation Sans&quot;, sans-serif" stroke="#000" stroke-width="0.25" font-size="10.2">0.04</text>
<text x="423.10" y="540.75" text-anchor="end" font-family="&quot;Liberation Sans&quot;, sans-serif" stroke="#000" stroke-width="0.25" font-size="10.2">0.05</text>
<text x="423.10" y="512.92" text-anchor="end" font-family="&quot;Liberation Sans&quot;, sans-serif" stroke="#000" stroke-width="0.25" font-size="10.2">0.06</text>
<text x="423.10" y="485.09" text-anchor="end" font-family="&quot;Liberation Sans&quot;, sans-serif" stroke="#000" stroke-width="0.25" font-size="10.2">0.07</text>
<text x="423.10" y="457.26" text-anchor="end" font-family="&quot;Liberation Sans&quot;, sans-serif" stroke="#000" stroke-width="0.25" font-size="10.2">0.08</text>
<text x="423.10" y="429.43" text-anchor="end" font-family="&quot;Liberation Sans&quot;, sans-serif" stroke="#000" stroke-width="0.25" font-size="10.2">0.09</text>
<text x="423.10" y="401.60" text-anchor="end" font-family="&quot;Liberation Sans&quot;, sans-serif" stroke="#000" stroke-width="0.25" font-size="10.2">0.1</text>
<text x="426.50" y="687.30" text-anchor="middle" font-family="&quot;Liberation Sans&quot;, sans-serif" stroke="#000" stroke-width="0.25" font-size="10.2">0</text>
<text x="521.87" y="687.30" text-anchor="middle" font-family="&quot;Liberation Sans&quot;, sans-serif" stroke="#000" stroke-width="0.25" font-size="10.2">0.5</text>
<text x="617.23" y="687.30" text-anchor="middle" font-family="&quot;Liberation Sans&quot;, sans-serif" stroke="#000" stroke-width="0.25" font-size="10.2">1</text>
<text x="712.60" y="687.30" text-anchor="middle" font-family="&quot;Liberation Sans&quot;, sans-serif" stroke="#000" stroke-width="0.25" font-size="10.2">1.5</text>
<path d="M426.50,675.10h2.8M712.60,675.10h-2.8M426.50,647.27h2.8M712.60,647.27h-2.8M426.50,619.44h2.8M712.60,619.44h-2.8M426.50,591.61h2.8M712.60,591.61h-2.8M426.50,563.78h2.8M712.60,563.78h-2.8M426.50,535.95h2.8M712.60,535.95h-2.8M426.50,508.12h2.8M712.60,508.12h-2.8M426.50,480.29h2.8M712.60,480.29h-2.8M426.50,452.46h2.8M712.60,452.46h-2.8M426.50,424.63h2.8M712.60,424.63h-2.8M426.50,396.80h2.8M712.60,396.80h-2.8M426.50,675.10v-2.8M426.50,396.80v2.8M521.87,675.10v-2.8M521.87,396.80v2.8M617.23,675.10v-2.8M617.23,396.80v2.8M712.60,675.10v-2.8M712.60,396.80v2.8" stroke="#7f7f7f" stroke-width="0.9" fill="none"/>
<rect x="426.50" y="396.80" width="286.10" height="278.30" fill="none" stroke="#7f7f7f" stroke-width="1.1"/>
<text x="572.45" y="701.50" text-anchor="middle" font-family="&quot;Liberation Sans&quot;, sans-serif" stroke="#000" stroke-width="0.25" font-size="13.2">f (m/s<tspan dy="-6" font-size="10">2</tspan><tspan dy="6">)</tspan></text>
<text transform="translate(390.7,524.65) rotate(-90)" text-anchor="middle" font-family="&quot;Liberation Sans&quot;, sans-serif" stroke="#000" stroke-width="0.25" font-size="13.2">Power (W)</text>
<text x="482.64" y="737.70" font-family="&quot;Liberation Serif&quot;, serif" font-size="18.2" textLength="22.39" lengthAdjust="spacingAndGlyphs">(d)</text>
<text x="512.45" y="737.70" font-family="&quot;Liberation Serif&quot;, serif" font-size="18.2" textLength="77.67" lengthAdjust="spacingAndGlyphs">Harvested</text>
<text x="596.88" y="737.70" font-family="&quot;Liberation Serif&quot;, serif" font-size="18.2" textLength="46.36" lengthAdjust="spacingAndGlyphs">power</text>
<path d="M426.50,675.10L436.04,675.10L445.57,675.10L455.11,675.10L464.65,675.10L474.18,675.10L476.09,667.11L478.00,667.02L479.91,666.93L481.81,666.84L483.72,666.75L493.26,665.92L502.79,664.69L512.33,664.11L521.87,663.41L531.40,662.41L540.94,661.46L550.48,660.91L560.01,659.71L569.55,659.10L579.09,658.21L588.62,657.51L598.16,656.40L607.70,655.79L617.23,654.59L626.77,653.81L636.31,653.11L645.84,652.42L655.38,651.58L664.92,650.69L674.45,651.03L683.99,650.19L693.53,649.77L703.06,648.66L712.60,647.60" fill="none" stroke="#0000ff" stroke-width="1.45" stroke-linejoin="round"/>
<path d="M423.70,675.10a2.8,2.8 0 1,0 5.6,0a2.8,2.8 0 1,0 -5.6,0M433.24,675.10a2.8,2.8 0 1,0 5.6,0a2.8,2.8 0 1,0 -5.6,0M442.77,675.10a2.8,2.8 0 1,0 5.6,0a2.8,2.8 0 1,0 -5.6,0M452.31,675.10a2.8,2.8 0 1,0 5.6,0a2.8,2.8 0 1,0 -5.6,0M461.85,675.10a2.8,2.8 0 1,0 5.6,0a2.8,2.8 0 1,0 -5.6,0M471.38,675.10a2.8,2.8 0 1,0 5.6,0a2.8,2.8 0 1,0 -5.6,0M473.29,667.11a2.8,2.8 0 1,0 5.6,0a2.8,2.8 0 1,0 -5.6,0M475.20,667.02a2.8,2.8 0 1,0 5.6,0a2.8,2.8 0 1,0 -5.6,0M477.11,666.93a2.8,2.8 0 1,0 5.6,0a2.8,2.8 0 1,0 -5.6,0M479.01,666.84a2.8,2.8 0 1,0 5.6,0a2.8,2.8 0 1,0 -5.6,0M480.92,666.75a2.8,2.8 0 1,0 5.6,0a2.8,2.8 0 1,0 -5.6,0M490.46,665.92a2.8,2.8 0 1,0 5.6,0a2.8,2.8 0 1,0 -5.6,0M499.99,664.69a2.8,2.8 0 1,0 5.6,0a2.8,2.8 0 1,0 -5.6,0M509.53,664.11a2.8,2.8 0 1,0 5.6,0a2.8,2.8 0 1,0 -5.6,0M519.07,663.41a2.8,2.8 0 1,0 5.6,0a2.8,2.8 0 1,0 -5.6,0M528.60,662.41a2.8,2.8 0 1,0 5.6,0a2.8,2.8 0 1,0 -5.6,0M538.14,661.46a2.8,2.8 0 1,0 5.6,0a2.8,2.8 0 1,0 -5.6,0M547.68,660.91a2.8,2.8 0 1,0 5.6,0a2.8,2.8 0 1,0 -5.6,0M557.21,659.71a2.8,2.8 0 1,0 5.6,0a2.8,2.8 0 1,0 -5.6,0M566.75,659.10a2.8,2.8 0 1,0 5.6,0a2.8,2.8 0 1,0 -5.6,0M576.29,658.21a2.8,2.8 0 1,0 5.6,0a2.8,2.8 0 1,0 -5.6,0M585.82,657.51a2.8,2.8 0 1,0 5.6,0a2.8,2.8 0 1,0 -5.6,0M595.36,656.40a2.8,2.8 0 1,0 5.6,0a2.8,2.8 0 1,0 -5.6,0M604.90,655.79a2.8,2.8 0 1,0 5.6,0a2.8,2.8 0 1,0 -5.6,0M614.43,654.59a2.8,2.8 0 1,0 5.6,0a2.8,2.8 0 1,0 -5.6,0M623.97,653.81a2.8,2.8 0 1,0 5.6,0a2.8,2.8 0 1,0 -5.6,0M633.51,653.11a2.8,2.8 0 1,0 5.6,0a2.8,2.8 0 1,0 -5.6,0M643.04,652.42a2.8,2.8 0 1,0 5.6,0a2.8,2.8 0 1,0 -5.6,0M652.58,651.58a2.8,2.8 0 1,0 5.6,0a2.8,2.8 0 1,0 -5.6,0M662.12,650.69a2.8,2.8 0 1,0 5.6,0a2.8,2.8 0 1,0 -5.6,0M671.65,651.03a2.8,2.8 0 1,0 5.6,0a2.8,2.8 0 1,0 -5.6,0M681.19,650.19a2.8,2.8 0 1,0 5.6,0a2.8,2.8 0 1,0 -5.6,0M690.73,649.77a2.8,2.8 0 1,0 5.6,0a2.8,2.8 0 1,0 -5.6,0M700.26,648.66a2.8,2.8 0 1,0 5.6,0a2.8,2.8 0 1,0 -5.6,0M709.80,647.60a2.8,2.8 0 1,0 5.6,0a2.8,2.8 0 1,0 -5.6,0" fill="none" stroke="#000" stroke-width="1.3"/>
<path d="M426.50,675.10L436.04,675.10L445.57,675.10L455.11,675.10L464.65,675.10L474.18,675.10L483.72,675.10L493.26,675.10L502.79,675.10L512.33,675.10L514.24,675.10L516.14,675.10L518.05,675.10L519.96,581.90L521.87,578.82L531.40,569.82L540.94,559.28L550.48,549.31L560.01,541.62L569.55,531.95L579.09,522.45L588.62,515.52L598.16,508.13L607.70,503.01L617.23,493.53L626.77,485.11L636.31,474.86L645.84,469.48L655.38,462.81L664.92,454.18L674.45,447.27L683.99,439.77L693.53,432.48L703.06,426.24L712.60,417.56" fill="none" stroke="#007f00" stroke-width="1.45" stroke-linejoin="round"/>
<path d="M423.70,675.10a2.8,2.8 0 1,0 5.6,0a2.8,2.8 0 1,0 -5.6,0M433.24,675.10a2.8,2.8 0 1,0 5.6,0a2.8,2.8 0 1,0 -5.6,0M442.77,675.10a2.8,2.8 0 1,0 5.6,0a2.8,2.8 0 1,0 -5.6,0M452.31,675.10a2.8,2.8 0 1,0 5.6,0a2.8,2.8 0 1,0 -5.6,0M461.85,675.10a2.8,2.8 0 1,0 5.6,0a2.8,2.8 0 1,0 -5.6,0M471.38,675.10a2.8,2.8 0 1,0 5.6,0a2.8,2.8 0 1,0 -5.6,0M480.92,675.10a2.8,2.8 0 1,0 5.6,0a2.8,2.8 0 1,0 -5.6,0M490.46,675.10a2.8,2.8 0 1,0 5.6,0a2.8,2.8 0 1,0 -5.6,0M499.99,675.10a2.8,2.8 0 1,0 5.6,0a2.8,2.8 0 1,0 -5.6,0M509.53,675.10a2.8,2.8 0 1,0 5.6,0a2.8,2.8 0 1,0 -5.6,0M511.44,675.10a2.8,2.8 0 1,0 5.6,0a2.8,2.8 0 1,0 -5.6,0M513.34,675.10a2.8,2.8 0 1,0 5.6,0a2.8,2.8 0 1,0 -5.6,0M515.25,675.10a2.8,2.8 0 1,0 5.6,0a2.8,2.8 0 1,0 -5.6,0M517.16,581.90a2.8,2.8 0 1,0 5.6,0a2.8,2.8 0 1,0 -5.6,0M519.07,578.82a2.8,2.8 0 1,0 5.6,0a2.8,2.8 0 1,0 -5.6,0M528.60,569.82a2.8,2.8 0 1,0 5.6,0a2.8,2.8 0 1,0 -5.6,0M538.14,559.28a2.8,2.8 0 1,0 5.6,0a2.8,2.8 0 1,0 -5.6,0M547.68,549.31a2.8,2.8 0 1,0 5.6,0a2.8,2.8 0 1,0 -5.6,0M557.21,541.62a2.8,2.8 0 1,0 5.6,0a2.8,2.8 0 1,0 -5.6,0M566.75,531.95a2.8,2.8 0 1,0 5.6,0a2.8,2.8 0 1,0 -5.6,0M576.29,522.45a2.8,2.8 0 1,0 5.6,0a2.8,2.8 0 1,0 -5.6,0M585.82,515.52a2.8,2.8 0 1,0 5.6,0a2.8,2.8 0 1,0 -5.6,0M595.36,508.13a2.8,2.8 0 1,0 5.6,0a2.8,2.8 0 1,0 -5.6,0M604.90,503.01a2.8,2.8 0 1,0 5.6,0a2.8,2.8 0 1,0 -5.6,0M614.43,493.53a2.8,2.8 0 1,0 5.6,0a2.8,2.8 0 1,0 -5.6,0M623.97,485.11a2.8,2.8 0 1,0 5.6,0a2.8,2.8 0 1,0 -5.6,0M633.51,474.86a2.8,2.8 0 1,0 5.6,0a2.8,2.8 0 1,0 -5.6,0M643.04,469.48a2.8,2.8 0 1,0 5.6,0a2.8,2.8 0 1,0 -5.6,0M652.58,462.81a2.8,2.8 0 1,0 5.6,0a2.8,2.8 0 1,0 -5.6,0M662.12,454.18a2.8,2.8 0 1,0 5.6,0a2.8,2.8 0 1,0 -5.6,0M671.65,447.27a2.8,2.8 0 1,0 5.6,0a2.8,2.8 0 1,0 -5.6,0M681.19,439.77a2.8,2.8 0 1,0 5.6,0a2.8,2.8 0 1,0 -5.6,0M690.73,432.48a2.8,2.8 0 1,0 5.6,0a2.8,2.8 0 1,0 -5.6,0M700.26,426.24a2.8,2.8 0 1,0 5.6,0a2.8,2.8 0 1,0 -5.6,0M709.80,417.56a2.8,2.8 0 1,0 5.6,0a2.8,2.8 0 1,0 -5.6,0" fill="none" stroke="#000" stroke-width="1.3"/>
<path d="M426.50,675.10L436.04,675.10L445.57,675.10L455.11,675.10L464.65,675.10L474.18,675.10L483.72,675.10L493.26,675.10L502.79,675.10L512.33,675.10L521.87,675.10L531.40,675.10L540.94,675.10L550.48,675.10L560.01,675.10L569.55,675.10L579.09,675.10L588.62,675.10L598.16,675.10L607.70,675.10L617.23,675.10L619.14,541.25L621.05,517.72L622.96,556.07L624.86,537.95L626.77,529.02L636.31,519.81L645.84,529.02L655.38,501.41L664.92,511.17L674.45,531.43L683.99,473.08L693.53,490.25L703.06,462.27L712.60,468.79" fill="none" stroke="#ff0000" stroke-width="1.45" stroke-linejoin="round"/>
<path d="M423.70,675.10a2.8,2.8 0 1,0 5.6,0a2.8,2.8 0 1,0 -5.6,0M433.24,675.10a2.8,2.8 0 1,0 5.6,0a2.8,2.8 0 1,0 -5.6,0M442.77,675.10a2.8,2.8 0 1,0 5.6,0a2.8,2.8 0 1,0 -5.6,0M452.31,675.10a2.8,2.8 0 1,0 5.6,0a2.8,2.8 0 1,0 -5.6,0M461.85,675.10a2.8,2.8 0 1,0 5.6,0a2.8,2.8 0 1,0 -5.6,0M471.38,675.10a2.8,2.8 0 1,0 5.6,0a2.8,2.8 0 1,0 -5.6,0M480.92,675.10a2.8,2.8 0 1,0 5.6,0a2.8,2.8 0 1,0 -5.6,0M490.46,675.10a2.8,2.8 0 1,0 5.6,0a2.8,2.8 0 1,0 -5.6,0M499.99,675.10a2.8,2.8 0 1,0 5.6,0a2.8,2.8 0 1,0 -5.6,0M509.53,675.10a2.8,2.8 0 1,0 5.6,0a2.8,2.8 0 1,0 -5.6,0M519.07,675.10a2.8,2.8 0 1,0 5.6,0a2.8,2.8 0 1,0 -5.6,0M528.60,675.10a2.8,2.8 0 1,0 5.6,0a2.8,2.8 0 1,0 -5.6,0M538.14,675.10a2.8,2.8 0 1,0 5.6,0a2.8,2.8 0 1,0 -5.6,0M547.68,675.10a2.8,2.8 0 1,0 5.6,0a2.8,2.8 0 1,0 -5.6,0M557.21,675.10a2.8,2.8 0 1,0 5.6,0a2.8,2.8 0 1,0 -5.6,0M566.75,675.10a2.8,2.8 0 1,0 5.6,0a2.8,2.8 0 1,0 -5.6,0M576.29,675.10a2.8,2.8 0 1,0 5.6,0a2.8,2.8 0 1,0 -5.6,0M585.82,675.10a2.8,2.8 0 1,0 5.6,0a2.8,2.8 0 1,0 -5.6,0M595.36,675.10a2.8,2.8 0 1,0 5.6,0a2.8,2.8 0 1,0 -5.6,0M604.90,675.10a2.8,2.8 0 1,0 5.6,0a2.8,2.8 0 1,0 -5.6,0M614.43,675.10a2.8,2.8 0 1,0 5.6,0a2.8,2.8 0 1,0 -5.6,0M616.34,541.25a2.8,2.8 0 1,0 5.6,0a2.8,2.8 0 1,0 -5.6,0M618.25,517.72a2.8,2.8 0 1,0 5.6,0a2.8,2.8 0 1,0 -5.6,0M620.16,556.07a2.8,2.8 0 1,0 5.6,0a2.8,2.8 0 1,0 -5.6,0M622.06,537.95a2.8,2.8 0 1,0 5.6,0a2.8,2.8 0 1,0 -5.6,0M623.97,529.02a2.8,2.8 0 1,0 5.6,0a2.8,2.8 0 1,0 -5.6,0M633.51,519.81a2.8,2.8 0 1,0 5.6,0a2.8,2.8 0 1,0 -5.6,0M643.04,529.02a2.8,2.8 0 1,0 5.6,0a2.8,2.8 0 1,0 -5.6,0M652.58,501.41a2.8,2.8 0 1,0 5.6,0a2.8,2.8 0 1,0 -5.6,0M662.12,511.17a2.8,2.8 0 1,0 5.6,0a2.8,2.8 0 1,0 -5.6,0M671.65,531.43a2.8,2.8 0 1,0 5.6,0a2.8,2.8 0 1,0 -5.6,0M681.19,473.08a2.8,2.8 0 1,0 5.6,0a2.8,2.8 0 1,0 -5.6,0M690.73,490.25a2.8,2.8 0 1,0 5.6,0a2.8,2.8 0 1,0 -5.6,0M700.26,462.27a2.8,2.8 0 1,0 5.6,0a2.8,2.8 0 1,0 -5.6,0M709.80,468.79a2.8,2.8 0 1,0 5.6,0a2.8,2.8 0 1,0 -5.6,0" fill="none" stroke="#000" stroke-width="1.3"/>
<path d="M426.50,675.10L436.04,675.10L445.57,675.10L449.01,675.10L449.01,669.72L455.11,669.25L464.65,668.41L474.18,667.15L483.72,666.75L493.26,665.92L502.79,664.69L512.33,664.11L521.87,663.41L531.40,662.41L540.94,661.46L550.48,660.91L560.01,659.71L569.55,659.10L579.09,658.21L588.62,657.51L598.16,656.40L607.70,655.79L617.23,654.59L626.77,653.81L636.31,653.11L645.84,652.42L655.38,651.58L664.92,650.69L674.45,651.03L683.99,650.19L693.53,649.77L703.06,648.66L712.60,647.60" fill="none" stroke="#0000ff" stroke-width="1.45" stroke-dasharray="4.6,3.4"/>
<path d="M424.50,675.10a2.0,2.0 0 1,0 4.0,0a2.0,2.0 0 1,0 -4.0,0M434.04,675.10a2.0,2.0 0 1,0 4.0,0a2.0,2.0 0 1,0 -4.0,0M443.57,675.10a2.0,2.0 0 1,0 4.0,0a2.0,2.0 0 1,0 -4.0,0M447.01,675.10a2.0,2.0 0 1,0 4.0,0a2.0,2.0 0 1,0 -4.0,0M447.01,669.72a2.0,2.0 0 1,0 4.0,0a2.0,2.0 0 1,0 -4.0,0M453.11,669.25a2.0,2.0 0 1,0 4.0,0a2.0,2.0 0 1,0 -4.0,0M462.65,668.41a2.0,2.0 0 1,0 4.0,0a2.0,2.0 0 1,0 -4.0,0M472.18,667.15a2.0,2.0 0 1,0 4.0,0a2.0,2.0 0 1,0 -4.0,0M481.72,666.75a2.0,2.0 0 1,0 4.0,0a2.0,2.0 0 1,0 -4.0,0M491.26,665.92a2.0,2.0 0 1,0 4.0,0a2.0,2.0 0 1,0 -4.0,0M500.79,664.69a2.0,2.0 0 1,0 4.0,0a2.0,2.0 0 1,0 -4.0,0M510.33,664.11a2.0,2.0 0 1,0 4.0,0a2.0,2.0 0 1,0 -4.0,0M519.87,663.41a2.0,2.0 0 1,0 4.0,0a2.0,2.0 0 1,0 -4.0,0M529.40,662.41a2.0,2.0 0 1,0 4.0,0a2.0,2.0 0 1,0 -4.0,0M538.94,661.46a2.0,2.0 0 1,0 4.0,0a2.0,2.0 0 1,0 -4.0,0M548.48,660.91a2.0,2.0 0 1,0 4.0,0a2.0,2.0 0 1,0 -4.0,0M558.01,659.71a2.0,2.0 0 1,0 4.0,0a2.0,2.0 0 1,0 -4.0,0M567.55,659.10a2.0,2.0 0 1,0 4.0,0a2.0,2.0 0 1,0 -4.0,0M577.09,658.21a2.0,2.0 0 1,0 4.0,0a2.0,2.0 0 1,0 -4.0,0M586.62,657.51a2.0,2.0 0 1,0 4.0,0a2.0,2.0 0 1,0 -4.0,0M596.16,656.40a2.0,2.0 0 1,0 4.0,0a2.0,2.0 0 1,0 -4.0,0M605.70,655.79a2.0,2.0 0 1,0 4.0,0a2.0,2.0 0 1,0 -4.0,0M615.23,654.59a2.0,2.0 0 1,0 4.0,0a2.0,2.0 0 1,0 -4.0,0M624.77,653.81a2.0,2.0 0 1,0 4.0,0a2.0,2.0 0 1,0 -4.0,0M634.31,653.11a2.0,2.0 0 1,0 4.0,0a2.0,2.0 0 1,0 -4.0,0M643.84,652.42a2.0,2.0 0 1,0 4.0,0a2.0,2.0 0 1,0 -4.0,0M653.38,651.58a2.0,2.0 0 1,0 4.0,0a2.0,2.0 0 1,0 -4.0,0M662.92,650.69a2.0,2.0 0 1,0 4.0,0a2.0,2.0 0 1,0 -4.0,0M672.45,651.03a2.0,2.0 0 1,0 4.0,0a2.0,2.0 0 1,0 -4.0,0M681.99,650.19a2.0,2.0 0 1,0 4.0,0a2.0,2.0 0 1,0 -4.0,0M691.53,649.77a2.0,2.0 0 1,0 4.0,0a2.0,2.0 0 1,0 -4.0,0M701.06,648.66a2.0,2.0 0 1,0 4.0,0a2.0,2.0 0 1,0 -4.0,0M710.60,647.60a2.0,2.0 0 1,0 4.0,0a2.0,2.0 0 1,0 -4.0,0" fill="#0000ff" stroke="none"/>
<path d="M426.50,675.10L436.04,675.10L445.57,675.10L455.11,675.10L464.65,675.10L474.18,675.10L483.72,675.10L493.26,675.10L497.64,675.10L497.64,620.94L498.98,615.78L500.50,610.80L502.79,606.50L511.76,592.77L519.96,581.90L521.87,578.82L531.40,569.82L540.94,559.28L550.48,549.31L560.01,541.62L569.55,531.95L579.09,522.45L588.62,515.52L598.16,508.13L607.70,503.01L617.23,493.53L626.77,485.11L636.31,474.86L645.84,469.48L655.38,462.81L664.92,454.18L674.45,447.27L683.99,439.77L693.53,432.48L703.06,426.24L712.60,417.56" fill="none" stroke="#007f00" stroke-width="1.45" stroke-dasharray="4.6,3.4"/>
<path d="M424.50,675.10a2.0,2.0 0 1,0 4.0,0a2.0,2.0 0 1,0 -4.0,0M434.04,675.10a2.0,2.0 0 1,0 4.0,0a2.0,2.0 0 1,0 -4.0,0M443.57,675.10a2.0,2.0 0 1,0 4.0,0a2.0,2.0 0 1,0 -4.0,0M453.11,675.10a2.0,2.0 0 1,0 4.0,0a2.0,2.0 0 1,0 -4.0,0M462.65,675.10a2.0,2.0 0 1,0 4.0,0a2.0,2.0 0 1,0 -4.0,0M472.18,675.10a2.0,2.0 0 1,0 4.0,0a2.0,2.0 0 1,0 -4.0,0M481.72,675.10a2.0,2.0 0 1,0 4.0,0a2.0,2.0 0 1,0 -4.0,0M491.26,675.10a2.0,2.0 0 1,0 4.0,0a2.0,2.0 0 1,0 -4.0,0M495.64,675.10a2.0,2.0 0 1,0 4.0,0a2.0,2.0 0 1,0 -4.0,0M495.64,620.94a2.0,2.0 0 1,0 4.0,0a2.0,2.0 0 1,0 -4.0,0M496.98,615.78a2.0,2.0 0 1,0 4.0,0a2.0,2.0 0 1,0 -4.0,0M498.50,610.80a2.0,2.0 0 1,0 4.0,0a2.0,2.0 0 1,0 -4.0,0M500.79,606.50a2.0,2.0 0 1,0 4.0,0a2.0,2.0 0 1,0 -4.0,0M509.76,592.77a2.0,2.0 0 1,0 4.0,0a2.0,2.0 0 1,0 -4.0,0M517.96,581.90a2.0,2.0 0 1,0 4.0,0a2.0,2.0 0 1,0 -4.0,0M519.87,578.82a2.0,2.0 0 1,0 4.0,0a2.0,2.0 0 1,0 -4.0,0M529.40,569.82a2.0,2.0 0 1,0 4.0,0a2.0,2.0 0 1,0 -4.0,0M538.94,559.28a2.0,2.0 0 1,0 4.0,0a2.0,2.0 0 1,0 -4.0,0M548.48,549.31a2.0,2.0 0 1,0 4.0,0a2.0,2.0 0 1,0 -4.0,0M558.01,541.62a2.0,2.0 0 1,0 4.0,0a2.0,2.0 0 1,0 -4.0,0M567.55,531.95a2.0,2.0 0 1,0 4.0,0a2.0,2.0 0 1,0 -4.0,0M577.09,522.45a2.0,2.0 0 1,0 4.0,0a2.0,2.0 0 1,0 -4.0,0M586.62,515.52a2.0,2.0 0 1,0 4.0,0a2.0,2.0 0 1,0 -4.0,0M596.16,508.13a2.0,2.0 0 1,0 4.0,0a2.0,2.0 0 1,0 -4.0,0M605.70,503.01a2.0,2.0 0 1,0 4.0,0a2.0,2.0 0 1,0 -4.0,0M615.23,493.53a2.0,2.0 0 1,0 4.0,0a2.0,2.0 0 1,0 -4.0,0M624.77,485.11a2.0,2.0 0 1,0 4.0,0a2.0,2.0 0 1,0 -4.0,0M634.31,474.86a2.0,2.0 0 1,0 4.0,0a2.0,2.0 0 1,0 -4.0,0M643.84,469.48a2.0,2.0 0 1,0 4.0,0a2.0,2.0 0 1,0 -4.0,0M653.38,462.81a2.0,2.0 0 1,0 4.0,0a2.0,2.0 0 1,0 -4.0,0M662.92,454.18a2.0,2.0 0 1,0 4.0,0a2.0,2.0 0 1,0 -4.0,0M672.45,447.27a2.0,2.0 0 1,0 4.0,0a2.0,2.0 0 1,0 -4.0,0M681.99,439.77a2.0,2.0 0 1,0 4.0,0a2.0,2.0 0 1,0 -4.0,0M691.53,432.48a2.0,2.0 0 1,0 4.0,0a2.0,2.0 0 1,0 -4.0,0M701.06,426.24a2.0,2.0 0 1,0 4.0,0a2.0,2.0 0 1,0 -4.0,0M710.60,417.56a2.0,2.0 0 1,0 4.0,0a2.0,2.0 0 1,0 -4.0,0" fill="#007f00" stroke="none"/>
<path d="M426.50,675.10L436.04,675.10L445.57,675.10L455.11,675.10L464.65,675.10L474.18,675.10L483.72,675.10L493.26,675.10L502.79,675.10L512.33,675.10L521.87,675.10L531.40,675.10L536.17,675.10L536.17,495.65L540.94,491.60L550.48,484.30L560.01,479.20L569.55,528.01L579.09,530.83L588.62,544.71L598.16,543.56L607.70,530.83L617.23,522.41L626.77,530.83L636.31,511.17L645.84,534.81L655.38,509.24L664.92,501.41L674.45,485.68L683.99,473.08L693.53,452.17L703.06,477.33L712.60,460.07" fill="none" stroke="#ff0000" stroke-width="1.45" stroke-dasharray="4.6,3.4"/>
<path d="M424.50,675.10a2.0,2.0 0 1,0 4.0,0a2.0,2.0 0 1,0 -4.0,0M434.04,675.10a2.0,2.0 0 1,0 4.0,0a2.0,2.0 0 1,0 -4.0,0M443.57,675.10a2.0,2.0 0 1,0 4.0,0a2.0,2.0 0 1,0 -4.0,0M453.11,675.10a2.0,2.0 0 1,0 4.0,0a2.0,2.0 0 1,0 -4.0,0M462.65,675.10a2.0,2.0 0 1,0 4.0,0a2.0,2.0 0 1,0 -4.0,0M472.18,675.10a2.0,2.0 0 1,0 4.0,0a2.0,2.0 0 1,0 -4.0,0M481.72,675.10a2.0,2.0 0 1,0 4.0,0a2.0,2.0 0 1,0 -4.0,0M491.26,675.10a2.0,2.0 0 1,0 4.0,0a2.0,2.0 0 1,0 -4.0,0M500.79,675.10a2.0,2.0 0 1,0 4.0,0a2.0,2.0 0 1,0 -4.0,0M510.33,675.10a2.0,2.0 0 1,0 4.0,0a2.0,2.0 0 1,0 -4.0,0M519.87,675.10a2.0,2.0 0 1,0 4.0,0a2.0,2.0 0 1,0 -4.0,0M529.40,675.10a2.0,2.0 0 1,0 4.0,0a2.0,2.0 0 1,0 -4.0,0M534.17,675.10a2.0,2.0 0 1,0 4.0,0a2.0,2.0 0 1,0 -4.0,0M534.17,495.65a2.0,2.0 0 1,0 4.0,0a2.0,2.0 0 1,0 -4.0,0M538.94,491.60a2.0,2.0 0 1,0 4.0,0a2.0,2.0 0 1,0 -4.0,0M548.48,484.30a2.0,2.0 0 1,0 4.0,0a2.0,2.0 0 1,0 -4.0,0M558.01,479.20a2.0,2.0 0 1,0 4.0,0a2.0,2.0 0 1,0 -4.0,0M567.55,528.01a2.0,2.0 0 1,0 4.0,0a2.0,2.0 0 1,0 -4.0,0M577.09,530.83a2.0,2.0 0 1,0 4.0,0a2.0,2.0 0 1,0 -4.0,0M586.62,544.71a2.0,2.0 0 1,0 4.0,0a2.0,2.0 0 1,0 -4.0,0M596.16,543.56a2.0,2.0 0 1,0 4.0,0a2.0,2.0 0 1,0 -4.0,0M605.70,530.83a2.0,2.0 0 1,0 4.0,0a2.0,2.0 0 1,0 -4.0,0M615.23,522.41a2.0,2.0 0 1,0 4.0,0a2.0,2.0 0 1,0 -4.0,0M624.77,530.83a2.0,2.0 0 1,0 4.0,0a2.0,2.0 0 1,0 -4.0,0M634.31,511.17a2.0,2.0 0 1,0 4.0,0a2.0,2.0 0 1,0 -4.0,0M643.84,534.81a2.0,2.0 0 1,0 4.0,0a2.0,2.0 0 1,0 -4.0,0M653.38,509.24a2.0,2.0 0 1,0 4.0,0a2.0,2.0 0 1,0 -4.0,0M662.92,501.41a2.0,2.0 0 1,0 4.0,0a2.0,2.0 0 1,0 -4.0,0M672.45,485.68a2.0,2.0 0 1,0 4.0,0a2.0,2.0 0 1,0 -4.0,0M681.99,473.08a2.0,2.0 0 1,0 4.0,0a2.0,2.0 0 1,0 -4.0,0M691.53,452.17a2.0,2.0 0 1,0 4.0,0a2.0,2.0 0 1,0 -4.0,0M701.06,477.33a2.0,2.0 0 1,0 4.0,0a2.0,2.0 0 1,0 -4.0,0M710.60,460.07a2.0,2.0 0 1,0 4.0,0a2.0,2.0 0 1,0 -4.0,0" fill="#ff0000" stroke="none"/>
<rect x="435.9" y="404.6" width="81.8" height="97.1" fill="#fff" stroke="#7f7f7f" stroke-width="1.1"/>
<path d="M439.90,413.80h19.6" stroke="#0000ff" stroke-width="1.5"/>
<circle cx="449.50" cy="413.80" r="2.9" fill="none" stroke="#000" stroke-width="1.1"/>
<text x="461.40" y="419.00" font-family="&quot;Liberation Sans&quot;, sans-serif" stroke="#000" stroke-width="0.25" font-size="10.6">R=10<tspan dy="-5.8" dx="0.2" font-size="7.6">3</tspan><tspan dy="5.8" dx="-0.8"> ohm</tspan></text>
<path d="M439.90,429.65h19.6" stroke="#007f00" stroke-width="1.5"/>
<circle cx="449.50" cy="429.65" r="2.9" fill="none" stroke="#000" stroke-width="1.1"/>
<text x="461.40" y="434.85" font-family="&quot;Liberation Sans&quot;, sans-serif" stroke="#000" stroke-width="0.25" font-size="10.6">R=10<tspan dy="-5.8" dx="0.2" font-size="7.6">4</tspan><tspan dy="5.8" dx="-0.8"> ohm</tspan></text>
<path d="M439.90,445.50h19.6" stroke="#ff0000" stroke-width="1.5"/>
<circle cx="449.50" cy="445.50" r="2.9" fill="none" stroke="#000" stroke-width="1.1"/>
<text x="461.40" y="450.70" font-family="&quot;Liberation Sans&quot;, sans-serif" stroke="#000" stroke-width="0.25" font-size="10.6">R=10<tspan dy="-5.8" dx="0.2" font-size="7.6">5</tspan><tspan dy="5.8" dx="-0.8"> ohm</tspan></text>
<path d="M439.70,461.35h4.6M454.50,461.35h4.6" stroke="#0000ff" stroke-width="1.4"/>
<circle cx="449.40" cy="461.35" r="1.7" fill="#0000ff"/>
<text x="461.40" y="466.55" font-family="&quot;Liberation Sans&quot;, sans-serif" stroke="#000" stroke-width="0.25" font-size="10.6">R=10<tspan dy="-5.8" dx="0.2" font-size="7.6">3</tspan><tspan dy="5.8" dx="-0.8"> ohm</tspan></text>
<path d="M439.70,477.20h4.6M454.50,477.20h4.6" stroke="#007f00" stroke-width="1.4"/>
<circle cx="449.40" cy="477.20" r="1.7" fill="#007f00"/>
<text x="461.40" y="482.40" font-family="&quot;Liberation Sans&quot;, sans-serif" stroke="#000" stroke-width="0.25" font-size="10.6">R=10<tspan dy="-5.8" dx="0.2" font-size="7.6">4</tspan><tspan dy="5.8" dx="-0.8"> ohm</tspan></text>
<path d="M439.70,493.05h4.6M454.50,493.05h4.6" stroke="#ff0000" stroke-width="1.4"/>
<circle cx="449.40" cy="493.05" r="1.7" fill="#ff0000"/>
<text x="461.40" y="498.25" font-family="&quot;Liberation Sans&quot;, sans-serif" stroke="#000" stroke-width="0.25" font-size="10.6">R=10<tspan dy="-5.8" dx="0.2" font-size="7.6">5</tspan><tspan dy="5.8" dx="-0.8"> ohm</tspan></text>
</svg></body></html>
